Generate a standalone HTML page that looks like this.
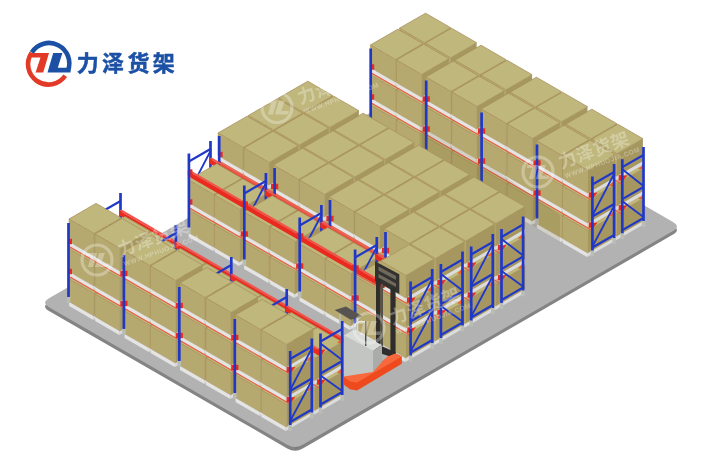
<!DOCTYPE html>
<html><head><meta charset="utf-8"><title>力泽货架</title>
<style>
html,body{margin:0;padding:0;background:#fff;}
body{width:710px;height:464px;overflow:hidden;position:relative;font-family:"Liberation Sans","Noto Sans CJK SC",sans-serif;}
svg{display:block;filter:blur(.4px)}
</style></head><body>
<svg width="710" height="464" viewBox="0 0 710 464" style="position:absolute;left:0;top:0">
<style>.t{fill:#bfb77c;stroke:#aa925c;stroke-width:.8}.f{fill:#b6a96f;stroke:#aa925c;stroke-width:.5}.r{fill:#a5975f}.pt{fill:#f2f2f2}.pf{fill:#e4e4e4}.pr{fill:#dcdcdc}</style><path d="M49.0,310.9 L287.2,448.4 Q295.0,452.9 302.8,448.4 L673.0,234.6 Q680.8,230.1 673.0,225.6 L434.8,88.1 Q427.0,83.6 419.2,88.1 L49.0,301.9 Q41.2,306.4 49.0,310.9 Z" fill="#848484"/>
<polygon points="49.0,302.8 295.0,446.2 295.0,449.9 49.0,306.4" fill="#848484"/>
<polygon points="295.0,446.2 673.0,226.5 673.0,230.1 295.0,449.9" fill="#7c7c7c"/>
<path d="M49.0,307.2 L287.2,444.8 Q295.0,449.2 302.8,444.8 L673.0,231.0 Q680.8,226.5 673.0,222.0 L434.8,84.5 Q427.0,80.0 419.2,84.5 L49.0,298.2 Q41.2,302.8 49.0,307.2 Z" fill="#b2b2b2"/>
<line x1="421.8" y1="99.0" x2="421.8" y2="92.0" stroke="#b9bdb6" stroke-width="3.6"/>
<line x1="421.8" y1="93.0" x2="421.8" y2="19.0" stroke="#2038c8" stroke-width="2.7"/>
<line x1="400.6" y1="102.2" x2="421.8" y2="90.0" stroke="#2038c8" stroke-width="2.1"/>
<line x1="400.6" y1="71.2" x2="421.8" y2="59.0" stroke="#2038c8" stroke-width="2.1"/>
<line x1="400.6" y1="39.2" x2="421.8" y2="27.0" stroke="#2038c8" stroke-width="2.1"/>
<line x1="421.8" y1="89.0" x2="400.6" y2="73.2" stroke="#2038c8" stroke-width="1.8"/>
<line x1="421.8" y1="58.0" x2="400.6" y2="41.2" stroke="#2038c8" stroke-width="1.8"/>
<polygon class="pt" points="399.6,111.2 426.0,95.9 450.2,109.9 423.8,125.2"/>
<polygon class="pf" points="399.6,111.2 423.8,125.2 423.8,129.2 399.6,115.2"/>
<polygon class="pr" points="423.8,125.2 450.2,109.9 450.2,113.9 423.8,129.2"/>
<polygon class="t" points="399.4,88.2 425.6,73.2 450.7,87.7 424.5,102.8"/>
<polygon class="f" points="399.4,88.2 424.5,102.8 424.5,125.2 399.4,110.8"/>
<polygon class="r" points="424.5,102.8 450.7,87.7 450.7,110.2 424.5,125.2"/>
<polygon class="pt" points="425.6,126.2 452.0,110.9 476.2,124.9 449.8,140.2"/>
<polygon class="pf" points="425.6,126.2 449.8,140.2 449.8,144.2 425.6,130.2"/>
<polygon class="pr" points="449.8,140.2 476.2,124.9 476.2,128.9 449.8,144.2"/>
<polygon class="t" points="425.4,103.2 451.5,88.2 476.6,102.7 450.5,117.8"/>
<polygon class="f" points="425.4,103.2 450.5,117.8 450.5,140.2 425.4,125.8"/>
<polygon class="r" points="450.5,117.8 476.6,102.7 476.6,125.2 450.5,140.2"/>
<polygon class="pt" points="399.6,81.2 426.0,65.9 450.2,79.9 423.8,95.2"/>
<polygon class="pf" points="399.6,81.2 423.8,95.2 423.8,99.2 399.6,85.2"/>
<polygon class="pr" points="423.8,95.2 450.2,79.9 450.2,83.9 423.8,99.2"/>
<polygon class="t" points="399.4,58.2 425.6,43.2 450.7,57.7 424.5,72.8"/>
<polygon class="f" points="399.4,58.2 424.5,72.8 424.5,95.2 399.4,80.8"/>
<polygon class="r" points="424.5,72.8 450.7,57.7 450.7,80.2 424.5,95.2"/>
<polygon class="pt" points="425.6,96.2 452.0,80.9 476.2,94.9 449.8,110.2"/>
<polygon class="pf" points="425.6,96.2 449.8,110.2 449.8,114.2 425.6,100.2"/>
<polygon class="pr" points="449.8,110.2 476.2,94.9 476.2,98.9 449.8,114.2"/>
<polygon class="t" points="425.4,73.2 451.5,58.2 476.6,72.7 450.5,87.8"/>
<polygon class="f" points="425.4,73.2 450.5,87.8 450.5,110.2 425.4,95.8"/>
<polygon class="r" points="450.5,87.8 476.6,72.7 476.6,95.2 450.5,110.2"/>
<polygon points="400.6,85.8 456.0,117.8 456.0,119.0 400.6,87.0" fill="#ee5a48"/>
<polygon class="pt" points="399.6,51.2 426.0,35.9 450.2,49.9 423.8,65.2"/>
<polygon class="pf" points="399.6,51.2 423.8,65.2 423.8,69.2 399.6,55.2"/>
<polygon class="pr" points="423.8,65.2 450.2,49.9 450.2,53.9 423.8,69.2"/>
<polygon class="t" points="399.4,28.2 425.6,13.2 450.7,27.7 424.5,42.8"/>
<polygon class="f" points="399.4,28.2 424.5,42.8 424.5,65.2 399.4,50.8"/>
<polygon class="r" points="424.5,42.8 450.7,27.7 450.7,50.2 424.5,65.2"/>
<polygon class="pt" points="425.6,66.2 452.0,50.9 476.2,64.9 449.8,80.2"/>
<polygon class="pf" points="425.6,66.2 449.8,80.2 449.8,84.2 425.6,70.2"/>
<polygon class="pr" points="449.8,80.2 476.2,64.9 476.2,68.9 449.8,84.2"/>
<polygon class="t" points="425.4,43.2 451.5,28.2 476.6,42.7 450.5,57.8"/>
<polygon class="f" points="425.4,43.2 450.5,57.8 450.5,80.2 425.4,65.8"/>
<polygon class="r" points="450.5,57.8 476.6,42.7 476.6,65.2 450.5,80.2"/>
<polygon points="400.6,55.8 456.0,87.8 456.0,89.0 400.6,57.0" fill="#ee5a48"/>
<rect x="400.1" y="77.0" width="4.0" height="5.4" fill="#ea2a1f"/>
<rect x="400.1" y="47.0" width="4.0" height="5.4" fill="#ea2a1f"/>
<line x1="400.6" y1="111.2" x2="400.6" y2="104.2" stroke="#b9bdb6" stroke-width="3.6"/>
<line x1="400.6" y1="105.2" x2="400.6" y2="31.2" stroke="#2038c8" stroke-width="2.7"/>
<polygon class="pt" points="455.0,143.2 481.4,127.9 505.7,141.9 479.2,157.2"/>
<polygon class="pf" points="455.0,143.2 479.2,157.2 479.2,161.2 455.0,147.2"/>
<polygon class="pr" points="479.2,157.2 505.7,141.9 505.7,145.9 479.2,161.2"/>
<polygon class="t" points="454.8,120.2 481.0,105.2 506.1,119.7 479.9,134.8"/>
<polygon class="f" points="454.8,120.2 479.9,134.8 479.9,157.2 454.8,142.8"/>
<polygon class="r" points="479.9,134.8 506.1,119.7 506.1,142.2 479.9,157.2"/>
<polygon class="pt" points="481.0,158.2 507.4,142.9 531.6,156.9 505.2,172.2"/>
<polygon class="pf" points="481.0,158.2 505.2,172.2 505.2,176.2 481.0,162.2"/>
<polygon class="pr" points="505.2,172.2 531.6,156.9 531.6,160.9 505.2,176.2"/>
<polygon class="t" points="480.8,135.2 507.0,120.2 532.1,134.7 505.9,149.8"/>
<polygon class="f" points="480.8,135.2 505.9,149.8 505.9,172.2 480.8,157.8"/>
<polygon class="r" points="505.9,149.8 532.1,134.7 532.1,157.2 505.9,172.2"/>
<polygon class="pt" points="455.0,113.2 481.4,97.9 505.7,111.9 479.2,127.2"/>
<polygon class="pf" points="455.0,113.2 479.2,127.2 479.2,131.2 455.0,117.2"/>
<polygon class="pr" points="479.2,127.2 505.7,111.9 505.7,115.9 479.2,131.2"/>
<polygon class="t" points="454.8,90.2 481.0,75.2 506.1,89.7 479.9,104.8"/>
<polygon class="f" points="454.8,90.2 479.9,104.8 479.9,127.2 454.8,112.8"/>
<polygon class="r" points="479.9,104.8 506.1,89.7 506.1,112.2 479.9,127.2"/>
<polygon class="pt" points="481.0,128.2 507.4,112.9 531.6,126.9 505.2,142.2"/>
<polygon class="pf" points="481.0,128.2 505.2,142.2 505.2,146.2 481.0,132.2"/>
<polygon class="pr" points="505.2,142.2 531.6,126.9 531.6,130.9 505.2,146.2"/>
<polygon class="t" points="480.8,105.2 507.0,90.2 532.1,104.7 505.9,119.8"/>
<polygon class="f" points="480.8,105.2 505.9,119.8 505.9,142.2 480.8,127.8"/>
<polygon class="r" points="505.9,119.8 532.1,104.7 532.1,127.2 505.9,142.2"/>
<polygon points="456.0,117.8 511.5,149.8 511.5,150.9 456.0,119.0" fill="#ee5a48"/>
<polygon class="pt" points="455.0,83.2 481.4,67.9 505.7,81.9 479.2,97.2"/>
<polygon class="pf" points="455.0,83.2 479.2,97.2 479.2,101.2 455.0,87.2"/>
<polygon class="pr" points="479.2,97.2 505.7,81.9 505.7,85.9 479.2,101.2"/>
<polygon class="t" points="454.8,60.2 481.0,45.2 506.1,59.7 479.9,74.8"/>
<polygon class="f" points="454.8,60.2 479.9,74.8 479.9,97.2 454.8,82.8"/>
<polygon class="r" points="479.9,74.8 506.1,59.7 506.1,82.2 479.9,97.2"/>
<polygon class="pt" points="481.0,98.2 507.4,82.9 531.6,96.9 505.2,112.2"/>
<polygon class="pf" points="481.0,98.2 505.2,112.2 505.2,116.2 481.0,102.2"/>
<polygon class="pr" points="505.2,112.2 531.6,96.9 531.6,100.9 505.2,116.2"/>
<polygon class="t" points="480.8,75.2 507.0,60.2 532.1,74.7 505.9,89.8"/>
<polygon class="f" points="480.8,75.2 505.9,89.8 505.9,112.2 480.8,97.8"/>
<polygon class="r" points="505.9,89.8 532.1,74.7 532.1,97.2 505.9,112.2"/>
<polygon points="456.0,87.8 511.5,119.8 511.5,121.0 456.0,89.0" fill="#ee5a48"/>
<rect x="452.4" y="109.0" width="7.2" height="5.4" fill="#ea2a1f"/>
<rect x="452.4" y="79.0" width="7.2" height="5.4" fill="#ea2a1f"/>
<line x1="456.0" y1="143.2" x2="456.0" y2="136.2" stroke="#b9bdb6" stroke-width="3.6"/>
<line x1="456.0" y1="137.2" x2="456.0" y2="63.2" stroke="#2038c8" stroke-width="2.7"/>
<polygon class="pt" points="510.4,175.2 536.8,159.9 561.1,173.9 534.7,189.2"/>
<polygon class="pf" points="510.4,175.2 534.7,189.2 534.7,193.2 510.4,179.2"/>
<polygon class="pr" points="534.7,189.2 561.1,173.9 561.1,177.9 534.7,193.2"/>
<polygon class="t" points="510.2,152.2 536.4,137.2 561.5,151.7 535.4,166.8"/>
<polygon class="f" points="510.2,152.2 535.4,166.8 535.4,189.2 510.2,174.8"/>
<polygon class="r" points="535.4,166.8 561.5,151.7 561.5,174.2 535.4,189.2"/>
<polygon class="pt" points="536.4,190.2 562.8,174.9 587.1,188.9 560.6,204.2"/>
<polygon class="pf" points="536.4,190.2 560.6,204.2 560.6,208.2 536.4,194.2"/>
<polygon class="pr" points="560.6,204.2 587.1,188.9 587.1,192.9 560.6,208.2"/>
<polygon class="t" points="536.2,167.2 562.4,152.2 587.5,166.7 561.3,181.8"/>
<polygon class="f" points="536.2,167.2 561.3,181.8 561.3,204.2 536.2,189.8"/>
<polygon class="r" points="561.3,181.8 587.5,166.7 587.5,189.2 561.3,204.2"/>
<polygon class="pt" points="510.4,145.2 536.8,129.9 561.1,143.9 534.7,159.2"/>
<polygon class="pf" points="510.4,145.2 534.7,159.2 534.7,163.2 510.4,149.2"/>
<polygon class="pr" points="534.7,159.2 561.1,143.9 561.1,147.9 534.7,163.2"/>
<polygon class="t" points="510.2,122.2 536.4,107.2 561.5,121.7 535.4,136.8"/>
<polygon class="f" points="510.2,122.2 535.4,136.8 535.4,159.2 510.2,144.8"/>
<polygon class="r" points="535.4,136.8 561.5,121.7 561.5,144.2 535.4,159.2"/>
<polygon class="pt" points="536.4,160.2 562.8,144.9 587.1,158.9 560.6,174.2"/>
<polygon class="pf" points="536.4,160.2 560.6,174.2 560.6,178.2 536.4,164.2"/>
<polygon class="pr" points="560.6,174.2 587.1,158.9 587.1,162.9 560.6,178.2"/>
<polygon class="t" points="536.2,137.2 562.4,122.2 587.5,136.7 561.3,151.8"/>
<polygon class="f" points="536.2,137.2 561.3,151.8 561.3,174.2 536.2,159.8"/>
<polygon class="r" points="561.3,151.8 587.5,136.7 587.5,159.2 561.3,174.2"/>
<polygon points="511.5,149.8 566.9,181.8 566.9,182.9 511.5,150.9" fill="#ee5a48"/>
<polygon class="pt" points="510.4,115.2 536.8,99.9 561.1,113.9 534.7,129.2"/>
<polygon class="pf" points="510.4,115.2 534.7,129.2 534.7,133.2 510.4,119.2"/>
<polygon class="pr" points="534.7,129.2 561.1,113.9 561.1,117.9 534.7,133.2"/>
<polygon class="t" points="510.2,92.2 536.4,77.2 561.5,91.7 535.4,106.8"/>
<polygon class="f" points="510.2,92.2 535.4,106.8 535.4,129.2 510.2,114.8"/>
<polygon class="r" points="535.4,106.8 561.5,91.7 561.5,114.2 535.4,129.2"/>
<polygon class="pt" points="536.4,130.2 562.8,114.9 587.1,128.9 560.6,144.2"/>
<polygon class="pf" points="536.4,130.2 560.6,144.2 560.6,148.2 536.4,134.2"/>
<polygon class="pr" points="560.6,144.2 587.1,128.9 587.1,132.9 560.6,148.2"/>
<polygon class="t" points="536.2,107.2 562.4,92.2 587.5,106.7 561.3,121.8"/>
<polygon class="f" points="536.2,107.2 561.3,121.8 561.3,144.2 536.2,129.8"/>
<polygon class="r" points="561.3,121.8 587.5,106.7 587.5,129.2 561.3,144.2"/>
<polygon points="511.5,119.8 566.9,151.8 566.9,152.9 511.5,121.0" fill="#ee5a48"/>
<rect x="507.9" y="141.1" width="7.2" height="5.4" fill="#ea2a1f"/>
<rect x="507.9" y="111.0" width="7.2" height="5.4" fill="#ea2a1f"/>
<line x1="511.5" y1="175.2" x2="511.5" y2="168.2" stroke="#b9bdb6" stroke-width="3.6"/>
<line x1="511.5" y1="169.2" x2="511.5" y2="95.2" stroke="#2038c8" stroke-width="2.7"/>
<polygon class="pt" points="565.8,207.2 592.3,191.9 616.5,205.9 590.1,221.2"/>
<polygon class="pf" points="565.8,207.2 590.1,221.2 590.1,225.2 565.8,211.2"/>
<polygon class="pr" points="590.1,221.2 616.5,205.9 616.5,209.9 590.1,225.2"/>
<polygon class="t" points="565.7,184.2 591.8,169.2 616.9,183.7 590.8,198.8"/>
<polygon class="f" points="565.7,184.2 590.8,198.8 590.8,221.2 565.7,206.8"/>
<polygon class="r" points="590.8,198.8 616.9,183.7 616.9,206.2 590.8,221.2"/>
<polygon class="pt" points="591.8,222.2 618.2,206.9 642.5,220.9 616.1,236.2"/>
<polygon class="pf" points="591.8,222.2 616.1,236.2 616.1,240.2 591.8,226.2"/>
<polygon class="pr" points="616.1,236.2 642.5,220.9 642.5,224.9 616.1,240.2"/>
<polygon class="t" points="591.7,199.2 617.8,184.2 642.9,198.7 616.8,213.8"/>
<polygon class="f" points="591.7,199.2 616.8,213.8 616.8,236.2 591.7,221.8"/>
<polygon class="r" points="616.8,213.8 642.9,198.7 642.9,221.2 616.8,236.2"/>
<polygon class="pt" points="565.8,177.2 592.3,161.9 616.5,175.9 590.1,191.2"/>
<polygon class="pf" points="565.8,177.2 590.1,191.2 590.1,195.2 565.8,181.2"/>
<polygon class="pr" points="590.1,191.2 616.5,175.9 616.5,179.9 590.1,195.2"/>
<polygon class="t" points="565.7,154.2 591.8,139.2 616.9,153.7 590.8,168.8"/>
<polygon class="f" points="565.7,154.2 590.8,168.8 590.8,191.2 565.7,176.8"/>
<polygon class="r" points="590.8,168.8 616.9,153.7 616.9,176.2 590.8,191.2"/>
<polygon class="pt" points="591.8,192.2 618.2,176.9 642.5,190.9 616.1,206.2"/>
<polygon class="pf" points="591.8,192.2 616.1,206.2 616.1,210.2 591.8,196.2"/>
<polygon class="pr" points="616.1,206.2 642.5,190.9 642.5,194.9 616.1,210.2"/>
<polygon class="t" points="591.7,169.2 617.8,154.2 642.9,168.7 616.8,183.8"/>
<polygon class="f" points="591.7,169.2 616.8,183.8 616.8,206.2 591.7,191.8"/>
<polygon class="r" points="616.8,183.8 642.9,168.7 642.9,191.2 616.8,206.2"/>
<polygon points="566.9,181.8 622.3,213.8 622.3,214.9 566.9,182.9" fill="#ee5a48"/>
<polygon class="pt" points="565.8,147.2 592.3,131.9 616.5,145.9 590.1,161.2"/>
<polygon class="pf" points="565.8,147.2 590.1,161.2 590.1,165.2 565.8,151.2"/>
<polygon class="pr" points="590.1,161.2 616.5,145.9 616.5,149.9 590.1,165.2"/>
<polygon class="t" points="565.7,124.2 591.8,109.2 616.9,123.7 590.8,138.8"/>
<polygon class="f" points="565.7,124.2 590.8,138.8 590.8,161.2 565.7,146.8"/>
<polygon class="r" points="590.8,138.8 616.9,123.7 616.9,146.2 590.8,161.2"/>
<polygon class="pt" points="591.8,162.2 618.2,146.9 642.5,160.9 616.1,176.2"/>
<polygon class="pf" points="591.8,162.2 616.1,176.2 616.1,180.2 591.8,166.2"/>
<polygon class="pr" points="616.1,176.2 642.5,160.9 642.5,164.9 616.1,180.2"/>
<polygon class="t" points="591.7,139.2 617.8,124.2 642.9,138.7 616.8,153.8"/>
<polygon class="f" points="591.7,139.2 616.8,153.8 616.8,176.2 591.7,161.8"/>
<polygon class="r" points="616.8,153.8 642.9,138.7 642.9,161.2 616.8,176.2"/>
<polygon points="566.9,151.8 622.3,183.8 622.3,184.9 566.9,152.9" fill="#ee5a48"/>
<rect x="563.3" y="173.1" width="7.2" height="5.4" fill="#ea2a1f"/>
<rect x="563.3" y="143.1" width="7.2" height="5.4" fill="#ea2a1f"/>
<line x1="566.9" y1="207.2" x2="566.9" y2="200.2" stroke="#b9bdb6" stroke-width="3.6"/>
<line x1="566.9" y1="201.2" x2="566.9" y2="127.2" stroke="#2038c8" stroke-width="2.7"/>
<rect x="618.7" y="205.1" width="4.0" height="5.4" fill="#ea2a1f"/>
<polygon points="622.3,205.8 627.5,205.2 622.3,211.8" fill="#ea2a1f"/>
<polygon points="643.5,193.5 638.3,199.0 643.5,199.5" fill="#f0602a"/>
<rect x="618.7" y="175.1" width="4.0" height="5.4" fill="#ea2a1f"/>
<polygon points="622.3,175.8 627.5,175.2 622.3,181.8" fill="#ea2a1f"/>
<polygon points="643.5,163.5 638.3,169.0 643.5,169.5" fill="#f0602a"/>
<line x1="643.5" y1="227.0" x2="643.5" y2="220.0" stroke="#b9bdb6" stroke-width="3.6"/>
<line x1="643.5" y1="221.0" x2="643.5" y2="147.0" stroke="#2038c8" stroke-width="2.7"/>
<line x1="622.3" y1="230.2" x2="643.5" y2="218.0" stroke="#2038c8" stroke-width="2.1"/>
<line x1="622.3" y1="199.2" x2="643.5" y2="187.0" stroke="#2038c8" stroke-width="2.1"/>
<line x1="622.3" y1="167.2" x2="643.5" y2="155.0" stroke="#2038c8" stroke-width="2.1"/>
<line x1="643.5" y1="217.0" x2="622.3" y2="201.2" stroke="#2038c8" stroke-width="1.8"/>
<line x1="643.5" y1="186.0" x2="622.3" y2="169.2" stroke="#2038c8" stroke-width="1.8"/>
<line x1="622.3" y1="239.2" x2="622.3" y2="232.2" stroke="#b9bdb6" stroke-width="3.6"/>
<line x1="622.3" y1="233.2" x2="622.3" y2="159.2" stroke="#2038c8" stroke-width="2.7"/>
<line x1="392.4" y1="116.0" x2="392.4" y2="109.0" stroke="#b9bdb6" stroke-width="3.6"/>
<line x1="392.4" y1="110.0" x2="392.4" y2="36.0" stroke="#2038c8" stroke-width="2.7"/>
<line x1="370.7" y1="119.5" x2="392.4" y2="107.0" stroke="#2038c8" stroke-width="2.1"/>
<line x1="370.7" y1="88.5" x2="392.4" y2="76.0" stroke="#2038c8" stroke-width="2.1"/>
<line x1="370.7" y1="56.5" x2="392.4" y2="44.0" stroke="#2038c8" stroke-width="2.1"/>
<line x1="370.7" y1="118.5" x2="392.4" y2="78.0" stroke="#2038c8" stroke-width="1.8"/>
<line x1="370.7" y1="87.5" x2="392.4" y2="46.0" stroke="#2038c8" stroke-width="1.8"/>
<polygon class="pt" points="370.6,127.9 398.3,111.9 422.5,125.9 394.8,141.9"/>
<polygon class="pf" points="370.6,127.9 394.8,141.9 394.8,145.9 370.6,131.9"/>
<polygon class="pr" points="394.8,141.9 422.5,125.9 422.5,129.9 394.8,145.9"/>
<polygon class="t" points="370.4,105.0 397.8,89.2 423.0,103.7 395.5,119.5"/>
<polygon class="f" points="370.4,105.0 395.5,119.5 395.5,142.0 370.4,127.5"/>
<polygon class="r" points="395.5,119.5 423.0,103.7 423.0,126.2 395.5,142.0"/>
<polygon class="pt" points="396.5,142.9 424.3,126.9 448.5,140.9 420.8,156.9"/>
<polygon class="pf" points="396.5,142.9 420.8,156.9 420.8,160.9 396.5,146.9"/>
<polygon class="pr" points="420.8,156.9 448.5,140.9 448.5,144.9 420.8,160.9"/>
<polygon class="t" points="396.4,120.0 423.8,104.2 448.9,118.7 421.5,134.5"/>
<polygon class="f" points="396.4,120.0 421.5,134.5 421.5,157.0 396.4,142.5"/>
<polygon class="r" points="421.5,134.5 448.9,118.7 448.9,141.2 421.5,157.0"/>
<polygon class="pt" points="370.6,97.9 398.3,81.9 422.5,95.9 394.8,111.9"/>
<polygon class="pf" points="370.6,97.9 394.8,111.9 394.8,115.9 370.6,101.9"/>
<polygon class="pr" points="394.8,111.9 422.5,95.9 422.5,99.9 394.8,115.9"/>
<polygon class="t" points="370.4,75.0 397.8,59.2 423.0,73.7 395.5,89.5"/>
<polygon class="f" points="370.4,75.0 395.5,89.5 395.5,112.0 370.4,97.5"/>
<polygon class="r" points="395.5,89.5 423.0,73.7 423.0,96.2 395.5,112.0"/>
<polygon class="pt" points="396.5,112.9 424.3,96.9 448.5,110.9 420.8,126.9"/>
<polygon class="pf" points="396.5,112.9 420.8,126.9 420.8,130.9 396.5,116.9"/>
<polygon class="pr" points="420.8,126.9 448.5,110.9 448.5,114.9 420.8,130.9"/>
<polygon class="t" points="396.4,90.0 423.8,74.2 448.9,88.7 421.5,104.5"/>
<polygon class="f" points="396.4,90.0 421.5,104.5 421.5,127.0 396.4,112.5"/>
<polygon class="r" points="421.5,104.5 448.9,88.7 448.9,111.2 421.5,127.0"/>
<polygon points="370.7,102.0 426.2,134.0 426.2,135.2 370.7,103.2" fill="#ee5a48"/>
<polygon class="pt" points="370.6,67.9 398.3,51.9 422.5,65.9 394.8,81.9"/>
<polygon class="pf" points="370.6,67.9 394.8,81.9 394.8,85.9 370.6,71.9"/>
<polygon class="pr" points="394.8,81.9 422.5,65.9 422.5,69.9 394.8,85.9"/>
<polygon class="t" points="370.4,45.0 397.8,29.2 423.0,43.7 395.5,59.5"/>
<polygon class="f" points="370.4,45.0 395.5,59.5 395.5,82.0 370.4,67.5"/>
<polygon class="r" points="395.5,59.5 423.0,43.7 423.0,66.2 395.5,82.0"/>
<polygon class="pt" points="396.5,82.9 424.3,66.9 448.5,80.9 420.8,96.9"/>
<polygon class="pf" points="396.5,82.9 420.8,96.9 420.8,100.9 396.5,86.9"/>
<polygon class="pr" points="420.8,96.9 448.5,80.9 448.5,84.9 420.8,100.9"/>
<polygon class="t" points="396.4,60.0 423.8,44.2 448.9,58.7 421.5,74.5"/>
<polygon class="f" points="396.4,60.0 421.5,74.5 421.5,97.0 396.4,82.5"/>
<polygon class="r" points="421.5,74.5 448.9,58.7 448.9,81.2 421.5,97.0"/>
<polygon points="370.7,72.0 426.2,104.0 426.2,105.2 370.7,73.2" fill="#ee5a48"/>
<rect x="370.2" y="94.3" width="4.0" height="5.4" fill="#ea2a1f"/>
<rect x="370.2" y="64.3" width="4.0" height="5.4" fill="#ea2a1f"/>
<line x1="370.7" y1="128.5" x2="370.7" y2="121.5" stroke="#b9bdb6" stroke-width="3.6"/>
<line x1="370.7" y1="122.5" x2="370.7" y2="48.5" stroke="#2038c8" stroke-width="2.7"/>
<polygon class="pt" points="426.0,159.9 453.7,143.9 477.9,157.9 450.2,173.9"/>
<polygon class="pf" points="426.0,159.9 450.2,173.9 450.2,177.9 426.0,163.9"/>
<polygon class="pr" points="450.2,173.9 477.9,157.9 477.9,161.9 450.2,177.9"/>
<polygon class="t" points="425.8,137.0 453.3,121.2 478.4,135.7 450.9,151.5"/>
<polygon class="f" points="425.8,137.0 450.9,151.5 450.9,174.0 425.8,159.5"/>
<polygon class="r" points="450.9,151.5 478.4,135.7 478.4,158.2 450.9,174.0"/>
<polygon class="pt" points="452.0,174.9 479.7,158.9 503.9,172.9 476.2,188.9"/>
<polygon class="pf" points="452.0,174.9 476.2,188.9 476.2,192.9 452.0,178.9"/>
<polygon class="pr" points="476.2,188.9 503.9,172.9 503.9,176.9 476.2,192.9"/>
<polygon class="t" points="451.8,152.0 479.2,136.2 504.4,150.7 476.9,166.5"/>
<polygon class="f" points="451.8,152.0 476.9,166.5 476.9,189.0 451.8,174.5"/>
<polygon class="r" points="476.9,166.5 504.4,150.7 504.4,173.2 476.9,189.0"/>
<polygon class="pt" points="426.0,129.9 453.7,113.9 477.9,127.9 450.2,143.9"/>
<polygon class="pf" points="426.0,129.9 450.2,143.9 450.2,147.9 426.0,133.9"/>
<polygon class="pr" points="450.2,143.9 477.9,127.9 477.9,131.9 450.2,147.9"/>
<polygon class="t" points="425.8,107.0 453.3,91.2 478.4,105.7 450.9,121.5"/>
<polygon class="f" points="425.8,107.0 450.9,121.5 450.9,144.0 425.8,129.5"/>
<polygon class="r" points="450.9,121.5 478.4,105.7 478.4,128.2 450.9,144.0"/>
<polygon class="pt" points="452.0,144.9 479.7,128.9 503.9,142.9 476.2,158.9"/>
<polygon class="pf" points="452.0,144.9 476.2,158.9 476.2,162.9 452.0,148.9"/>
<polygon class="pr" points="476.2,158.9 503.9,142.9 503.9,146.9 476.2,162.9"/>
<polygon class="t" points="451.8,122.0 479.2,106.2 504.4,120.7 476.9,136.5"/>
<polygon class="f" points="451.8,122.0 476.9,136.5 476.9,159.0 451.8,144.5"/>
<polygon class="r" points="476.9,136.5 504.4,120.7 504.4,143.2 476.9,159.0"/>
<polygon points="426.2,134.0 481.6,166.0 481.6,167.2 426.2,135.2" fill="#ee5a48"/>
<polygon class="pt" points="426.0,99.9 453.7,83.9 477.9,97.9 450.2,113.9"/>
<polygon class="pf" points="426.0,99.9 450.2,113.9 450.2,117.9 426.0,103.9"/>
<polygon class="pr" points="450.2,113.9 477.9,97.9 477.9,101.9 450.2,117.9"/>
<polygon class="t" points="425.8,77.0 453.3,61.2 478.4,75.7 450.9,91.5"/>
<polygon class="f" points="425.8,77.0 450.9,91.5 450.9,114.0 425.8,99.5"/>
<polygon class="r" points="450.9,91.5 478.4,75.7 478.4,98.2 450.9,114.0"/>
<polygon class="pt" points="452.0,114.9 479.7,98.9 503.9,112.9 476.2,128.9"/>
<polygon class="pf" points="452.0,114.9 476.2,128.9 476.2,132.9 452.0,118.9"/>
<polygon class="pr" points="476.2,128.9 503.9,112.9 503.9,116.9 476.2,132.9"/>
<polygon class="t" points="451.8,92.0 479.2,76.2 504.4,90.7 476.9,106.5"/>
<polygon class="f" points="451.8,92.0 476.9,106.5 476.9,129.0 451.8,114.5"/>
<polygon class="r" points="476.9,106.5 504.4,90.7 504.4,113.2 476.9,129.0"/>
<polygon points="426.2,104.0 481.6,136.0 481.6,137.2 426.2,105.2" fill="#ee5a48"/>
<rect x="422.6" y="126.3" width="7.2" height="5.4" fill="#ea2a1f"/>
<rect x="422.6" y="96.3" width="7.2" height="5.4" fill="#ea2a1f"/>
<line x1="426.2" y1="160.5" x2="426.2" y2="153.5" stroke="#b9bdb6" stroke-width="3.6"/>
<line x1="426.2" y1="154.5" x2="426.2" y2="80.5" stroke="#2038c8" stroke-width="2.7"/>
<polygon class="pt" points="481.4,191.9 509.1,175.9 533.4,189.9 505.7,205.9"/>
<polygon class="pf" points="481.4,191.9 505.7,205.9 505.7,209.9 481.4,195.9"/>
<polygon class="pr" points="505.7,205.9 533.4,189.9 533.4,193.9 505.7,209.9"/>
<polygon class="t" points="481.2,169.0 508.7,153.2 533.8,167.7 506.3,183.5"/>
<polygon class="f" points="481.2,169.0 506.3,183.5 506.3,206.0 481.2,191.5"/>
<polygon class="r" points="506.3,183.5 533.8,167.7 533.8,190.2 506.3,206.0"/>
<polygon class="pt" points="507.4,206.9 535.1,190.9 559.3,204.9 531.6,220.9"/>
<polygon class="pf" points="507.4,206.9 531.6,220.9 531.6,224.9 507.4,210.9"/>
<polygon class="pr" points="531.6,220.9 559.3,204.9 559.3,208.9 531.6,224.9"/>
<polygon class="t" points="507.2,184.0 534.7,168.2 559.8,182.7 532.3,198.5"/>
<polygon class="f" points="507.2,184.0 532.3,198.5 532.3,221.0 507.2,206.5"/>
<polygon class="r" points="532.3,198.5 559.8,182.7 559.8,205.2 532.3,221.0"/>
<polygon class="pt" points="481.4,161.9 509.1,145.9 533.4,159.9 505.7,175.9"/>
<polygon class="pf" points="481.4,161.9 505.7,175.9 505.7,179.9 481.4,165.9"/>
<polygon class="pr" points="505.7,175.9 533.4,159.9 533.4,163.9 505.7,179.9"/>
<polygon class="t" points="481.2,139.0 508.7,123.2 533.8,137.7 506.3,153.5"/>
<polygon class="f" points="481.2,139.0 506.3,153.5 506.3,176.0 481.2,161.5"/>
<polygon class="r" points="506.3,153.5 533.8,137.7 533.8,160.2 506.3,176.0"/>
<polygon class="pt" points="507.4,176.9 535.1,160.9 559.3,174.9 531.6,190.9"/>
<polygon class="pf" points="507.4,176.9 531.6,190.9 531.6,194.9 507.4,180.9"/>
<polygon class="pr" points="531.6,190.9 559.3,174.9 559.3,178.9 531.6,194.9"/>
<polygon class="t" points="507.2,154.0 534.7,138.2 559.8,152.7 532.3,168.5"/>
<polygon class="f" points="507.2,154.0 532.3,168.5 532.3,191.0 507.2,176.5"/>
<polygon class="r" points="532.3,168.5 559.8,152.7 559.8,175.2 532.3,191.0"/>
<polygon points="481.6,166.0 537.0,198.0 537.0,199.2 481.6,167.2" fill="#ee5a48"/>
<polygon class="pt" points="481.4,131.9 509.1,115.9 533.4,129.9 505.7,145.9"/>
<polygon class="pf" points="481.4,131.9 505.7,145.9 505.7,149.9 481.4,135.9"/>
<polygon class="pr" points="505.7,145.9 533.4,129.9 533.4,133.9 505.7,149.9"/>
<polygon class="t" points="481.2,109.0 508.7,93.2 533.8,107.7 506.3,123.5"/>
<polygon class="f" points="481.2,109.0 506.3,123.5 506.3,146.0 481.2,131.5"/>
<polygon class="r" points="506.3,123.5 533.8,107.7 533.8,130.2 506.3,146.0"/>
<polygon class="pt" points="507.4,146.9 535.1,130.9 559.3,144.9 531.6,160.9"/>
<polygon class="pf" points="507.4,146.9 531.6,160.9 531.6,164.9 507.4,150.9"/>
<polygon class="pr" points="531.6,160.9 559.3,144.9 559.3,148.9 531.6,164.9"/>
<polygon class="t" points="507.2,124.0 534.7,108.2 559.8,122.7 532.3,138.5"/>
<polygon class="f" points="507.2,124.0 532.3,138.5 532.3,161.0 507.2,146.5"/>
<polygon class="r" points="532.3,138.5 559.8,122.7 559.8,145.2 532.3,161.0"/>
<polygon points="481.6,136.0 537.0,168.0 537.0,169.2 481.6,137.2" fill="#ee5a48"/>
<rect x="478.0" y="158.3" width="7.2" height="5.4" fill="#ea2a1f"/>
<rect x="478.0" y="128.3" width="7.2" height="5.4" fill="#ea2a1f"/>
<line x1="481.6" y1="192.5" x2="481.6" y2="185.5" stroke="#b9bdb6" stroke-width="3.6"/>
<line x1="481.6" y1="186.5" x2="481.6" y2="112.5" stroke="#2038c8" stroke-width="2.7"/>
<polygon class="pt" points="536.8,223.9 564.5,207.9 588.8,221.9 561.1,237.9"/>
<polygon class="pf" points="536.8,223.9 561.1,237.9 561.1,241.9 536.8,227.9"/>
<polygon class="pr" points="561.1,237.9 588.8,221.9 588.8,225.9 561.1,241.9"/>
<polygon class="t" points="536.7,201.0 564.1,185.2 589.2,199.7 561.8,215.5"/>
<polygon class="f" points="536.7,201.0 561.8,215.5 561.8,238.0 536.7,223.5"/>
<polygon class="r" points="561.8,215.5 589.2,199.7 589.2,222.2 561.8,238.0"/>
<polygon class="pt" points="562.8,238.9 590.5,222.9 614.8,236.9 587.1,252.9"/>
<polygon class="pf" points="562.8,238.9 587.1,252.9 587.1,256.9 562.8,242.9"/>
<polygon class="pr" points="587.1,252.9 614.8,236.9 614.8,240.9 587.1,256.9"/>
<polygon class="t" points="562.6,216.0 590.1,200.2 615.2,214.7 587.8,230.5"/>
<polygon class="f" points="562.6,216.0 587.8,230.5 587.8,253.0 562.6,238.5"/>
<polygon class="r" points="587.8,230.5 615.2,214.7 615.2,237.2 587.8,253.0"/>
<polygon class="pt" points="536.8,193.9 564.5,177.9 588.8,191.9 561.1,207.9"/>
<polygon class="pf" points="536.8,193.9 561.1,207.9 561.1,211.9 536.8,197.9"/>
<polygon class="pr" points="561.1,207.9 588.8,191.9 588.8,195.9 561.1,211.9"/>
<polygon class="t" points="536.7,171.0 564.1,155.2 589.2,169.7 561.8,185.5"/>
<polygon class="f" points="536.7,171.0 561.8,185.5 561.8,208.0 536.7,193.5"/>
<polygon class="r" points="561.8,185.5 589.2,169.7 589.2,192.2 561.8,208.0"/>
<polygon class="pt" points="562.8,208.9 590.5,192.9 614.8,206.9 587.1,222.9"/>
<polygon class="pf" points="562.8,208.9 587.1,222.9 587.1,226.9 562.8,212.9"/>
<polygon class="pr" points="587.1,222.9 614.8,206.9 614.8,210.9 587.1,226.9"/>
<polygon class="t" points="562.6,186.0 590.1,170.2 615.2,184.7 587.8,200.5"/>
<polygon class="f" points="562.6,186.0 587.8,200.5 587.8,223.0 562.6,208.5"/>
<polygon class="r" points="587.8,200.5 615.2,184.7 615.2,207.2 587.8,223.0"/>
<polygon points="537.0,198.0 592.4,230.0 592.4,231.2 537.0,199.2" fill="#ee5a48"/>
<polygon class="pt" points="536.8,163.9 564.5,147.9 588.8,161.9 561.1,177.9"/>
<polygon class="pf" points="536.8,163.9 561.1,177.9 561.1,181.9 536.8,167.9"/>
<polygon class="pr" points="561.1,177.9 588.8,161.9 588.8,165.9 561.1,181.9"/>
<polygon class="t" points="536.7,141.0 564.1,125.2 589.2,139.7 561.8,155.5"/>
<polygon class="f" points="536.7,141.0 561.8,155.5 561.8,178.0 536.7,163.5"/>
<polygon class="r" points="561.8,155.5 589.2,139.7 589.2,162.2 561.8,178.0"/>
<polygon class="pt" points="562.8,178.9 590.5,162.9 614.8,176.9 587.1,192.9"/>
<polygon class="pf" points="562.8,178.9 587.1,192.9 587.1,196.9 562.8,182.9"/>
<polygon class="pr" points="587.1,192.9 614.8,176.9 614.8,180.9 587.1,196.9"/>
<polygon class="t" points="562.6,156.0 590.1,140.2 615.2,154.7 587.8,170.5"/>
<polygon class="f" points="562.6,156.0 587.8,170.5 587.8,193.0 562.6,178.5"/>
<polygon class="r" points="587.8,170.5 615.2,154.7 615.2,177.2 587.8,193.0"/>
<polygon points="537.0,168.0 592.4,200.0 592.4,201.2 537.0,169.2" fill="#ee5a48"/>
<rect x="533.4" y="190.3" width="7.2" height="5.4" fill="#ea2a1f"/>
<rect x="533.4" y="160.3" width="7.2" height="5.4" fill="#ea2a1f"/>
<line x1="537.0" y1="224.5" x2="537.0" y2="217.5" stroke="#b9bdb6" stroke-width="3.6"/>
<line x1="537.0" y1="218.5" x2="537.0" y2="144.5" stroke="#2038c8" stroke-width="2.7"/>
<rect x="588.8" y="222.3" width="4.0" height="5.4" fill="#ea2a1f"/>
<polygon points="592.4,223.0 597.6,222.5 592.4,229.0" fill="#ea2a1f"/>
<polygon points="614.1,210.5 608.9,216.0 614.1,216.5" fill="#f0602a"/>
<rect x="588.8" y="192.3" width="4.0" height="5.4" fill="#ea2a1f"/>
<polygon points="592.4,193.0 597.6,192.5 592.4,199.0" fill="#ea2a1f"/>
<polygon points="614.1,180.5 608.9,186.0 614.1,186.5" fill="#f0602a"/>
<line x1="614.1" y1="244.0" x2="614.1" y2="237.0" stroke="#b9bdb6" stroke-width="3.6"/>
<line x1="614.1" y1="238.0" x2="614.1" y2="164.0" stroke="#2038c8" stroke-width="2.7"/>
<line x1="592.4" y1="247.5" x2="614.1" y2="235.0" stroke="#2038c8" stroke-width="2.1"/>
<line x1="592.4" y1="216.5" x2="614.1" y2="204.0" stroke="#2038c8" stroke-width="2.1"/>
<line x1="592.4" y1="184.5" x2="614.1" y2="172.0" stroke="#2038c8" stroke-width="2.1"/>
<line x1="592.4" y1="246.5" x2="614.1" y2="206.0" stroke="#2038c8" stroke-width="1.8"/>
<line x1="592.4" y1="215.5" x2="614.1" y2="174.0" stroke="#2038c8" stroke-width="1.8"/>
<line x1="592.4" y1="256.5" x2="592.4" y2="249.5" stroke="#b9bdb6" stroke-width="3.6"/>
<line x1="592.4" y1="250.5" x2="592.4" y2="176.5" stroke="#2038c8" stroke-width="2.7"/>
<polygon points="419.6,160.3 419.6,126.3 497.5,171.3 559.9,215.3 559.9,241.3" fill="#5a4a10" opacity="0.13"/>
<line x1="301.5" y1="168.5" x2="301.5" y2="161.5" stroke="#b9bdb6" stroke-width="3.6"/>
<line x1="301.5" y1="162.5" x2="301.5" y2="88.5" stroke="#2038c8" stroke-width="2.7"/>
<line x1="279.8" y1="172.0" x2="301.5" y2="159.5" stroke="#2038c8" stroke-width="2.1"/>
<line x1="279.8" y1="141.0" x2="301.5" y2="128.5" stroke="#2038c8" stroke-width="2.1"/>
<line x1="279.8" y1="109.0" x2="301.5" y2="96.5" stroke="#2038c8" stroke-width="2.1"/>
<line x1="301.5" y1="158.5" x2="279.8" y2="143.0" stroke="#2038c8" stroke-width="1.8"/>
<line x1="301.5" y1="127.5" x2="279.8" y2="111.0" stroke="#2038c8" stroke-width="1.8"/>
<polygon class="pt" points="278.8,180.9 308.2,163.9 332.5,177.9 303.0,194.9"/>
<polygon class="pf" points="278.8,180.9 303.0,194.9 303.0,198.9 278.8,184.9"/>
<polygon class="pr" points="303.0,194.9 332.5,177.9 332.5,181.9 303.0,198.9"/>
<polygon class="t" points="278.6,158.0 307.8,141.2 332.9,155.7 303.7,172.5"/>
<polygon class="f" points="278.6,158.0 303.7,172.5 303.7,195.0 278.6,180.5"/>
<polygon class="r" points="303.7,172.5 332.9,155.7 332.9,178.2 303.7,195.0"/>
<polygon class="pt" points="304.7,195.9 334.2,178.9 358.4,192.9 329.0,209.9"/>
<polygon class="pf" points="304.7,195.9 329.0,209.9 329.0,213.9 304.7,199.9"/>
<polygon class="pr" points="329.0,209.9 358.4,192.9 358.4,196.9 329.0,213.9"/>
<polygon class="t" points="304.6,173.0 333.8,156.2 358.9,170.7 329.7,187.5"/>
<polygon class="f" points="304.6,173.0 329.7,187.5 329.7,210.0 304.6,195.5"/>
<polygon class="r" points="329.7,187.5 358.9,170.7 358.9,193.2 329.7,210.0"/>
<polygon class="pt" points="278.8,150.9 308.2,133.9 332.5,147.9 303.0,164.9"/>
<polygon class="pf" points="278.8,150.9 303.0,164.9 303.0,168.9 278.8,154.9"/>
<polygon class="pr" points="303.0,164.9 332.5,147.9 332.5,151.9 303.0,168.9"/>
<polygon class="t" points="278.6,128.0 307.8,111.2 332.9,125.7 303.7,142.5"/>
<polygon class="f" points="278.6,128.0 303.7,142.5 303.7,165.0 278.6,150.5"/>
<polygon class="r" points="303.7,142.5 332.9,125.7 332.9,148.2 303.7,165.0"/>
<polygon class="pt" points="304.7,165.9 334.2,148.9 358.4,162.9 329.0,179.9"/>
<polygon class="pf" points="304.7,165.9 329.0,179.9 329.0,183.9 304.7,169.9"/>
<polygon class="pr" points="329.0,179.9 358.4,162.9 358.4,166.9 329.0,183.9"/>
<polygon class="t" points="304.6,143.0 333.8,126.2 358.9,140.7 329.7,157.5"/>
<polygon class="f" points="304.6,143.0 329.7,157.5 329.7,180.0 304.6,165.5"/>
<polygon class="r" points="329.7,157.5 358.9,140.7 358.9,163.2 329.7,180.0"/>
<polygon points="279.8,155.5 335.2,187.5 335.2,188.7 279.8,156.7" fill="#ee5a48"/>
<polygon class="pt" points="278.8,120.9 308.2,103.9 332.5,117.9 303.0,134.9"/>
<polygon class="pf" points="278.8,120.9 303.0,134.9 303.0,138.9 278.8,124.9"/>
<polygon class="pr" points="303.0,134.9 332.5,117.9 332.5,121.9 303.0,138.9"/>
<polygon class="t" points="278.6,98.0 307.8,81.2 332.9,95.7 303.7,112.5"/>
<polygon class="f" points="278.6,98.0 303.7,112.5 303.7,135.0 278.6,120.5"/>
<polygon class="r" points="303.7,112.5 332.9,95.7 332.9,118.2 303.7,135.0"/>
<polygon class="pt" points="304.7,135.9 334.2,118.9 358.4,132.9 329.0,149.9"/>
<polygon class="pf" points="304.7,135.9 329.0,149.9 329.0,153.9 304.7,139.9"/>
<polygon class="pr" points="329.0,149.9 358.4,132.9 358.4,136.9 329.0,153.9"/>
<polygon class="t" points="304.6,113.0 333.8,96.2 358.9,110.7 329.7,127.5"/>
<polygon class="f" points="304.6,113.0 329.7,127.5 329.7,150.0 304.6,135.5"/>
<polygon class="r" points="329.7,127.5 358.9,110.7 358.9,133.2 329.7,150.0"/>
<polygon points="279.8,125.5 335.2,157.5 335.2,158.7 279.8,126.7" fill="#ee5a48"/>
<rect x="279.3" y="146.8" width="4.0" height="5.4" fill="#ea2a1f"/>
<rect x="279.3" y="116.8" width="4.0" height="5.4" fill="#ea2a1f"/>
<line x1="279.8" y1="181.0" x2="279.8" y2="174.0" stroke="#b9bdb6" stroke-width="3.6"/>
<line x1="279.8" y1="175.0" x2="279.8" y2="101.0" stroke="#2038c8" stroke-width="2.7"/>
<polygon class="pt" points="334.2,212.9 363.6,195.9 387.9,209.9 358.4,226.9"/>
<polygon class="pf" points="334.2,212.9 358.4,226.9 358.4,230.9 334.2,216.9"/>
<polygon class="pr" points="358.4,226.9 387.9,209.9 387.9,213.9 358.4,230.9"/>
<polygon class="t" points="334.0,190.0 363.2,173.2 388.3,187.7 359.1,204.5"/>
<polygon class="f" points="334.0,190.0 359.1,204.5 359.1,227.0 334.0,212.5"/>
<polygon class="r" points="359.1,204.5 388.3,187.7 388.3,210.2 359.1,227.0"/>
<polygon class="pt" points="360.2,227.9 389.6,210.9 413.9,224.9 384.4,241.9"/>
<polygon class="pf" points="360.2,227.9 384.4,241.9 384.4,245.9 360.2,231.9"/>
<polygon class="pr" points="384.4,241.9 413.9,224.9 413.9,228.9 384.4,245.9"/>
<polygon class="t" points="360.0,205.0 389.2,188.2 414.3,202.7 385.1,219.5"/>
<polygon class="f" points="360.0,205.0 385.1,219.5 385.1,242.0 360.0,227.5"/>
<polygon class="r" points="385.1,219.5 414.3,202.7 414.3,225.2 385.1,242.0"/>
<polygon class="pt" points="334.2,182.9 363.6,165.9 387.9,179.9 358.4,196.9"/>
<polygon class="pf" points="334.2,182.9 358.4,196.9 358.4,200.9 334.2,186.9"/>
<polygon class="pr" points="358.4,196.9 387.9,179.9 387.9,183.9 358.4,200.9"/>
<polygon class="t" points="334.0,160.0 363.2,143.2 388.3,157.7 359.1,174.5"/>
<polygon class="f" points="334.0,160.0 359.1,174.5 359.1,197.0 334.0,182.5"/>
<polygon class="r" points="359.1,174.5 388.3,157.7 388.3,180.2 359.1,197.0"/>
<polygon class="pt" points="360.2,197.9 389.6,180.9 413.9,194.9 384.4,211.9"/>
<polygon class="pf" points="360.2,197.9 384.4,211.9 384.4,215.9 360.2,201.9"/>
<polygon class="pr" points="384.4,211.9 413.9,194.9 413.9,198.9 384.4,215.9"/>
<polygon class="t" points="360.0,175.0 389.2,158.2 414.3,172.7 385.1,189.5"/>
<polygon class="f" points="360.0,175.0 385.1,189.5 385.1,212.0 360.0,197.5"/>
<polygon class="r" points="385.1,189.5 414.3,172.7 414.3,195.2 385.1,212.0"/>
<polygon points="335.2,187.5 390.7,219.5 390.7,220.7 335.2,188.7" fill="#ee5a48"/>
<polygon class="pt" points="334.2,152.9 363.6,135.9 387.9,149.9 358.4,166.9"/>
<polygon class="pf" points="334.2,152.9 358.4,166.9 358.4,170.9 334.2,156.9"/>
<polygon class="pr" points="358.4,166.9 387.9,149.9 387.9,153.9 358.4,170.9"/>
<polygon class="t" points="334.0,130.0 363.2,113.2 388.3,127.7 359.1,144.5"/>
<polygon class="f" points="334.0,130.0 359.1,144.5 359.1,167.0 334.0,152.5"/>
<polygon class="r" points="359.1,144.5 388.3,127.7 388.3,150.2 359.1,167.0"/>
<polygon class="pt" points="360.2,167.9 389.6,150.9 413.9,164.9 384.4,181.9"/>
<polygon class="pf" points="360.2,167.9 384.4,181.9 384.4,185.9 360.2,171.9"/>
<polygon class="pr" points="384.4,181.9 413.9,164.9 413.9,168.9 384.4,185.9"/>
<polygon class="t" points="360.0,145.0 389.2,128.2 414.3,142.7 385.1,159.5"/>
<polygon class="f" points="360.0,145.0 385.1,159.5 385.1,182.0 360.0,167.5"/>
<polygon class="r" points="385.1,159.5 414.3,142.7 414.3,165.2 385.1,182.0"/>
<polygon points="335.2,157.5 390.7,189.5 390.7,190.7 335.2,158.7" fill="#ee5a48"/>
<rect x="331.6" y="178.8" width="7.2" height="5.4" fill="#ea2a1f"/>
<rect x="331.6" y="148.8" width="7.2" height="5.4" fill="#ea2a1f"/>
<line x1="335.2" y1="213.0" x2="335.2" y2="206.0" stroke="#b9bdb6" stroke-width="3.6"/>
<line x1="335.2" y1="207.0" x2="335.2" y2="133.0" stroke="#2038c8" stroke-width="2.7"/>
<polygon class="pt" points="389.6,244.9 419.1,227.9 443.3,241.9 413.9,258.9"/>
<polygon class="pf" points="389.6,244.9 413.9,258.9 413.9,262.9 389.6,248.9"/>
<polygon class="pr" points="413.9,258.9 443.3,241.9 443.3,245.9 413.9,262.9"/>
<polygon class="t" points="389.4,222.0 418.6,205.2 443.7,219.7 414.6,236.5"/>
<polygon class="f" points="389.4,222.0 414.6,236.5 414.6,259.0 389.4,244.5"/>
<polygon class="r" points="414.6,236.5 443.7,219.7 443.7,242.2 414.6,259.0"/>
<polygon class="pt" points="415.6,259.9 445.0,242.9 469.3,256.9 439.8,273.9"/>
<polygon class="pf" points="415.6,259.9 439.8,273.9 439.8,277.9 415.6,263.9"/>
<polygon class="pr" points="439.8,273.9 469.3,256.9 469.3,260.9 439.8,277.9"/>
<polygon class="t" points="415.4,237.0 444.6,220.2 469.7,234.6 440.5,251.5"/>
<polygon class="f" points="415.4,237.0 440.5,251.5 440.5,274.0 415.4,259.5"/>
<polygon class="r" points="440.5,251.5 469.7,234.6 469.7,257.1 440.5,274.0"/>
<polygon class="pt" points="389.6,214.9 419.1,197.9 443.3,211.9 413.9,228.9"/>
<polygon class="pf" points="389.6,214.9 413.9,228.9 413.9,232.9 389.6,218.9"/>
<polygon class="pr" points="413.9,228.9 443.3,211.9 443.3,215.9 413.9,232.9"/>
<polygon class="t" points="389.4,192.0 418.6,175.2 443.7,189.7 414.6,206.5"/>
<polygon class="f" points="389.4,192.0 414.6,206.5 414.6,229.0 389.4,214.5"/>
<polygon class="r" points="414.6,206.5 443.7,189.7 443.7,212.2 414.6,229.0"/>
<polygon class="pt" points="415.6,229.9 445.0,212.9 469.3,226.9 439.8,243.9"/>
<polygon class="pf" points="415.6,229.9 439.8,243.9 439.8,247.9 415.6,233.9"/>
<polygon class="pr" points="439.8,243.9 469.3,226.9 469.3,230.9 439.8,247.9"/>
<polygon class="t" points="415.4,207.0 444.6,190.2 469.7,204.6 440.5,221.5"/>
<polygon class="f" points="415.4,207.0 440.5,221.5 440.5,244.0 415.4,229.5"/>
<polygon class="r" points="440.5,221.5 469.7,204.6 469.7,227.1 440.5,244.0"/>
<polygon points="390.7,219.5 446.1,251.5 446.1,252.7 390.7,220.7" fill="#ee5a48"/>
<polygon class="pt" points="389.6,184.9 419.1,167.9 443.3,181.9 413.9,198.9"/>
<polygon class="pf" points="389.6,184.9 413.9,198.9 413.9,202.9 389.6,188.9"/>
<polygon class="pr" points="413.9,198.9 443.3,181.9 443.3,185.9 413.9,202.9"/>
<polygon class="t" points="389.4,162.0 418.6,145.2 443.7,159.7 414.6,176.5"/>
<polygon class="f" points="389.4,162.0 414.6,176.5 414.6,199.0 389.4,184.5"/>
<polygon class="r" points="414.6,176.5 443.7,159.7 443.7,182.2 414.6,199.0"/>
<polygon class="pt" points="415.6,199.9 445.0,182.9 469.3,196.9 439.8,213.9"/>
<polygon class="pf" points="415.6,199.9 439.8,213.9 439.8,217.9 415.6,203.9"/>
<polygon class="pr" points="439.8,213.9 469.3,196.9 469.3,200.9 439.8,217.9"/>
<polygon class="t" points="415.4,177.0 444.6,160.2 469.7,174.6 440.5,191.5"/>
<polygon class="f" points="415.4,177.0 440.5,191.5 440.5,214.0 415.4,199.5"/>
<polygon class="r" points="440.5,191.5 469.7,174.6 469.7,197.1 440.5,214.0"/>
<polygon points="390.7,189.5 446.1,221.5 446.1,222.7 390.7,190.7" fill="#ee5a48"/>
<rect x="387.1" y="210.8" width="7.2" height="5.4" fill="#ea2a1f"/>
<rect x="387.1" y="180.8" width="7.2" height="5.4" fill="#ea2a1f"/>
<line x1="390.7" y1="245.0" x2="390.7" y2="238.0" stroke="#b9bdb6" stroke-width="3.6"/>
<line x1="390.7" y1="239.0" x2="390.7" y2="165.0" stroke="#2038c8" stroke-width="2.7"/>
<polygon class="pt" points="445.0,276.9 474.5,259.9 498.7,273.9 469.3,290.9"/>
<polygon class="pf" points="445.0,276.9 469.3,290.9 469.3,294.9 445.0,280.9"/>
<polygon class="pr" points="469.3,290.9 498.7,273.9 498.7,277.9 469.3,294.9"/>
<polygon class="t" points="444.9,254.0 474.0,237.1 499.2,251.6 470.0,268.5"/>
<polygon class="f" points="444.9,254.0 470.0,268.5 470.0,291.0 444.9,276.5"/>
<polygon class="r" points="470.0,268.5 499.2,251.6 499.2,274.1 470.0,291.0"/>
<polygon class="pt" points="471.0,291.9 500.5,274.9 524.7,288.9 495.3,305.9"/>
<polygon class="pf" points="471.0,291.9 495.3,305.9 495.3,309.9 471.0,295.9"/>
<polygon class="pr" points="495.3,305.9 524.7,288.9 524.7,292.9 495.3,309.9"/>
<polygon class="t" points="470.8,269.0 500.0,252.1 525.1,266.6 496.0,283.5"/>
<polygon class="f" points="470.8,269.0 496.0,283.5 496.0,306.0 470.8,291.5"/>
<polygon class="r" points="496.0,283.5 525.1,266.6 525.1,289.1 496.0,306.0"/>
<polygon class="pt" points="445.0,246.9 474.5,229.9 498.7,243.9 469.3,260.9"/>
<polygon class="pf" points="445.0,246.9 469.3,260.9 469.3,264.9 445.0,250.9"/>
<polygon class="pr" points="469.3,260.9 498.7,243.9 498.7,247.9 469.3,264.9"/>
<polygon class="t" points="444.9,224.0 474.0,207.1 499.2,221.6 470.0,238.5"/>
<polygon class="f" points="444.9,224.0 470.0,238.5 470.0,261.0 444.9,246.5"/>
<polygon class="r" points="470.0,238.5 499.2,221.6 499.2,244.1 470.0,261.0"/>
<polygon class="pt" points="471.0,261.9 500.5,244.9 524.7,258.9 495.3,275.9"/>
<polygon class="pf" points="471.0,261.9 495.3,275.9 495.3,279.9 471.0,265.9"/>
<polygon class="pr" points="495.3,275.9 524.7,258.9 524.7,262.9 495.3,279.9"/>
<polygon class="t" points="470.8,239.0 500.0,222.1 525.1,236.6 496.0,253.5"/>
<polygon class="f" points="470.8,239.0 496.0,253.5 496.0,276.0 470.8,261.5"/>
<polygon class="r" points="496.0,253.5 525.1,236.6 525.1,259.1 496.0,276.0"/>
<polygon points="446.1,251.5 501.5,283.5 501.5,284.7 446.1,252.7" fill="#ee5a48"/>
<polygon class="pt" points="445.0,216.9 474.5,199.9 498.7,213.9 469.3,230.9"/>
<polygon class="pf" points="445.0,216.9 469.3,230.9 469.3,234.9 445.0,220.9"/>
<polygon class="pr" points="469.3,230.9 498.7,213.9 498.7,217.9 469.3,234.9"/>
<polygon class="t" points="444.9,194.0 474.0,177.1 499.2,191.6 470.0,208.5"/>
<polygon class="f" points="444.9,194.0 470.0,208.5 470.0,231.0 444.9,216.5"/>
<polygon class="r" points="470.0,208.5 499.2,191.6 499.2,214.1 470.0,231.0"/>
<polygon class="pt" points="471.0,231.9 500.5,214.9 524.7,228.9 495.3,245.9"/>
<polygon class="pf" points="471.0,231.9 495.3,245.9 495.3,249.9 471.0,235.9"/>
<polygon class="pr" points="495.3,245.9 524.7,228.9 524.7,232.9 495.3,249.9"/>
<polygon class="t" points="470.8,209.0 500.0,192.1 525.1,206.6 496.0,223.5"/>
<polygon class="f" points="470.8,209.0 496.0,223.5 496.0,246.0 470.8,231.5"/>
<polygon class="r" points="496.0,223.5 525.1,206.6 525.1,229.1 496.0,246.0"/>
<polygon points="446.1,221.5 501.5,253.5 501.5,254.7 446.1,222.7" fill="#ee5a48"/>
<rect x="442.5" y="242.8" width="7.2" height="5.4" fill="#ea2a1f"/>
<rect x="442.5" y="212.8" width="7.2" height="5.4" fill="#ea2a1f"/>
<line x1="446.1" y1="277.0" x2="446.1" y2="270.0" stroke="#b9bdb6" stroke-width="3.6"/>
<line x1="446.1" y1="271.0" x2="446.1" y2="197.0" stroke="#2038c8" stroke-width="2.7"/>
<rect x="497.9" y="274.8" width="4.0" height="5.4" fill="#ea2a1f"/>
<polygon points="501.5,275.5 506.7,275.0 501.5,281.5" fill="#ea2a1f"/>
<polygon points="523.1,263.0 518.0,268.5 523.1,269.0" fill="#f0602a"/>
<rect x="497.9" y="244.8" width="4.0" height="5.4" fill="#ea2a1f"/>
<polygon points="501.5,245.5 506.7,245.0 501.5,251.5" fill="#ea2a1f"/>
<polygon points="523.1,233.0 518.0,238.5 523.1,239.0" fill="#f0602a"/>
<line x1="523.1" y1="296.5" x2="523.1" y2="289.5" stroke="#b9bdb6" stroke-width="3.6"/>
<line x1="523.1" y1="290.5" x2="523.1" y2="216.5" stroke="#2038c8" stroke-width="2.7"/>
<line x1="501.5" y1="300.0" x2="523.1" y2="287.5" stroke="#2038c8" stroke-width="2.1"/>
<line x1="501.5" y1="269.0" x2="523.1" y2="256.5" stroke="#2038c8" stroke-width="2.1"/>
<line x1="501.5" y1="237.0" x2="523.1" y2="224.5" stroke="#2038c8" stroke-width="2.1"/>
<line x1="523.1" y1="286.5" x2="501.5" y2="271.0" stroke="#2038c8" stroke-width="1.8"/>
<line x1="523.1" y1="255.5" x2="501.5" y2="239.0" stroke="#2038c8" stroke-width="1.8"/>
<line x1="501.5" y1="309.0" x2="501.5" y2="302.0" stroke="#b9bdb6" stroke-width="3.6"/>
<line x1="501.5" y1="303.0" x2="501.5" y2="229.0" stroke="#2038c8" stroke-width="2.7"/>
<line x1="271.1" y1="186.0" x2="271.1" y2="179.0" stroke="#b9bdb6" stroke-width="3.6"/>
<line x1="271.1" y1="180.0" x2="271.1" y2="106.0" stroke="#2038c8" stroke-width="2.7"/>
<line x1="249.5" y1="189.5" x2="271.1" y2="177.0" stroke="#2038c8" stroke-width="2.1"/>
<line x1="249.5" y1="158.5" x2="271.1" y2="146.0" stroke="#2038c8" stroke-width="2.1"/>
<line x1="249.5" y1="126.5" x2="271.1" y2="114.0" stroke="#2038c8" stroke-width="2.1"/>
<line x1="249.5" y1="188.5" x2="271.1" y2="148.0" stroke="#2038c8" stroke-width="1.8"/>
<line x1="249.5" y1="157.5" x2="271.1" y2="116.0" stroke="#2038c8" stroke-width="1.8"/>
<polygon class="pt" points="248.5,198.4 277.9,181.4 302.1,195.4 272.7,212.4"/>
<polygon class="pf" points="248.5,198.4 272.7,212.4 272.7,216.4 248.5,202.4"/>
<polygon class="pr" points="272.7,212.4 302.1,195.4 302.1,199.4 272.7,216.4"/>
<polygon class="t" points="248.3,175.5 277.5,158.7 302.6,173.2 273.4,190.0"/>
<polygon class="f" points="248.3,175.5 273.4,190.0 273.4,212.5 248.3,198.0"/>
<polygon class="r" points="273.4,190.0 302.6,173.2 302.6,195.7 273.4,212.5"/>
<polygon class="pt" points="274.4,213.4 303.9,196.4 328.1,210.4 298.7,227.4"/>
<polygon class="pf" points="274.4,213.4 298.7,227.4 298.7,231.4 274.4,217.4"/>
<polygon class="pr" points="298.7,227.4 328.1,210.4 328.1,214.4 298.7,231.4"/>
<polygon class="t" points="274.3,190.5 303.4,173.7 328.6,188.2 299.4,205.0"/>
<polygon class="f" points="274.3,190.5 299.4,205.0 299.4,227.5 274.3,213.0"/>
<polygon class="r" points="299.4,205.0 328.6,188.2 328.6,210.7 299.4,227.5"/>
<polygon class="pt" points="248.5,168.4 277.9,151.4 302.1,165.4 272.7,182.4"/>
<polygon class="pf" points="248.5,168.4 272.7,182.4 272.7,186.4 248.5,172.4"/>
<polygon class="pr" points="272.7,182.4 302.1,165.4 302.1,169.4 272.7,186.4"/>
<polygon class="t" points="248.3,145.5 277.5,128.7 302.6,143.2 273.4,160.0"/>
<polygon class="f" points="248.3,145.5 273.4,160.0 273.4,182.5 248.3,168.0"/>
<polygon class="r" points="273.4,160.0 302.6,143.2 302.6,165.7 273.4,182.5"/>
<polygon class="pt" points="274.4,183.4 303.9,166.4 328.1,180.4 298.7,197.4"/>
<polygon class="pf" points="274.4,183.4 298.7,197.4 298.7,201.4 274.4,187.4"/>
<polygon class="pr" points="298.7,197.4 328.1,180.4 328.1,184.4 298.7,201.4"/>
<polygon class="t" points="274.3,160.5 303.4,143.7 328.6,158.2 299.4,175.0"/>
<polygon class="f" points="274.3,160.5 299.4,175.0 299.4,197.5 274.3,183.0"/>
<polygon class="r" points="299.4,175.0 328.6,158.2 328.6,180.7 299.4,197.5"/>
<polygon points="249.5,173.0 304.9,205.0 304.9,206.2 249.5,174.2" fill="#ee5a48"/>
<polygon class="pt" points="248.5,138.4 277.9,121.4 302.1,135.4 272.7,152.4"/>
<polygon class="pf" points="248.5,138.4 272.7,152.4 272.7,156.4 248.5,142.4"/>
<polygon class="pr" points="272.7,152.4 302.1,135.4 302.1,139.4 272.7,156.4"/>
<polygon class="t" points="248.3,115.5 277.5,98.7 302.6,113.2 273.4,130.0"/>
<polygon class="f" points="248.3,115.5 273.4,130.0 273.4,152.5 248.3,138.0"/>
<polygon class="r" points="273.4,130.0 302.6,113.2 302.6,135.7 273.4,152.5"/>
<polygon class="pt" points="274.4,153.4 303.9,136.4 328.1,150.4 298.7,167.4"/>
<polygon class="pf" points="274.4,153.4 298.7,167.4 298.7,171.4 274.4,157.4"/>
<polygon class="pr" points="298.7,167.4 328.1,150.4 328.1,154.4 298.7,171.4"/>
<polygon class="t" points="274.3,130.5 303.4,113.7 328.6,128.2 299.4,145.0"/>
<polygon class="f" points="274.3,130.5 299.4,145.0 299.4,167.5 274.3,153.0"/>
<polygon class="r" points="299.4,145.0 328.6,128.2 328.6,150.7 299.4,167.5"/>
<polygon points="249.5,143.0 304.9,175.0 304.9,176.2 249.5,144.2" fill="#ee5a48"/>
<rect x="249.0" y="164.3" width="4.0" height="5.4" fill="#ea2a1f"/>
<rect x="249.0" y="134.3" width="4.0" height="5.4" fill="#ea2a1f"/>
<line x1="249.5" y1="198.5" x2="249.5" y2="191.5" stroke="#b9bdb6" stroke-width="3.6"/>
<line x1="249.5" y1="192.5" x2="249.5" y2="118.5" stroke="#2038c8" stroke-width="2.7"/>
<polygon class="pt" points="303.9,230.4 333.3,213.4 357.6,227.4 328.1,244.4"/>
<polygon class="pf" points="303.9,230.4 328.1,244.4 328.1,248.4 303.9,234.4"/>
<polygon class="pr" points="328.1,244.4 357.6,227.4 357.6,231.4 328.1,248.4"/>
<polygon class="t" points="303.7,207.5 332.9,190.7 358.0,205.2 328.8,222.0"/>
<polygon class="f" points="303.7,207.5 328.8,222.0 328.8,244.5 303.7,230.0"/>
<polygon class="r" points="328.8,222.0 358.0,205.2 358.0,227.7 328.8,244.5"/>
<polygon class="pt" points="329.9,245.4 359.3,228.4 383.6,242.4 354.1,259.4"/>
<polygon class="pf" points="329.9,245.4 354.1,259.4 354.1,263.4 329.9,249.4"/>
<polygon class="pr" points="354.1,259.4 383.6,242.4 383.6,246.4 354.1,263.4"/>
<polygon class="t" points="329.7,222.5 358.9,205.7 384.0,220.2 354.8,237.0"/>
<polygon class="f" points="329.7,222.5 354.8,237.0 354.8,259.5 329.7,245.0"/>
<polygon class="r" points="354.8,237.0 384.0,220.2 384.0,242.7 354.8,259.5"/>
<polygon class="pt" points="303.9,200.4 333.3,183.4 357.6,197.4 328.1,214.4"/>
<polygon class="pf" points="303.9,200.4 328.1,214.4 328.1,218.4 303.9,204.4"/>
<polygon class="pr" points="328.1,214.4 357.6,197.4 357.6,201.4 328.1,218.4"/>
<polygon class="t" points="303.7,177.5 332.9,160.7 358.0,175.2 328.8,192.0"/>
<polygon class="f" points="303.7,177.5 328.8,192.0 328.8,214.5 303.7,200.0"/>
<polygon class="r" points="328.8,192.0 358.0,175.2 358.0,197.7 328.8,214.5"/>
<polygon class="pt" points="329.9,215.4 359.3,198.4 383.6,212.4 354.1,229.4"/>
<polygon class="pf" points="329.9,215.4 354.1,229.4 354.1,233.4 329.9,219.4"/>
<polygon class="pr" points="354.1,229.4 383.6,212.4 383.6,216.4 354.1,233.4"/>
<polygon class="t" points="329.7,192.5 358.9,175.7 384.0,190.2 354.8,207.0"/>
<polygon class="f" points="329.7,192.5 354.8,207.0 354.8,229.5 329.7,215.0"/>
<polygon class="r" points="354.8,207.0 384.0,190.2 384.0,212.7 354.8,229.5"/>
<polygon points="304.9,205.0 360.3,237.0 360.3,238.2 304.9,206.2" fill="#ee5a48"/>
<polygon class="pt" points="303.9,170.4 333.3,153.4 357.6,167.4 328.1,184.4"/>
<polygon class="pf" points="303.9,170.4 328.1,184.4 328.1,188.4 303.9,174.4"/>
<polygon class="pr" points="328.1,184.4 357.6,167.4 357.6,171.4 328.1,188.4"/>
<polygon class="t" points="303.7,147.5 332.9,130.7 358.0,145.2 328.8,162.0"/>
<polygon class="f" points="303.7,147.5 328.8,162.0 328.8,184.5 303.7,170.0"/>
<polygon class="r" points="328.8,162.0 358.0,145.2 358.0,167.7 328.8,184.5"/>
<polygon class="pt" points="329.9,185.4 359.3,168.4 383.6,182.4 354.1,199.4"/>
<polygon class="pf" points="329.9,185.4 354.1,199.4 354.1,203.4 329.9,189.4"/>
<polygon class="pr" points="354.1,199.4 383.6,182.4 383.6,186.4 354.1,203.4"/>
<polygon class="t" points="329.7,162.5 358.9,145.7 384.0,160.2 354.8,177.0"/>
<polygon class="f" points="329.7,162.5 354.8,177.0 354.8,199.5 329.7,185.0"/>
<polygon class="r" points="354.8,177.0 384.0,160.2 384.0,182.7 354.8,199.5"/>
<polygon points="304.9,175.0 360.3,207.0 360.3,208.2 304.9,176.2" fill="#ee5a48"/>
<rect x="301.3" y="196.3" width="7.2" height="5.4" fill="#ea2a1f"/>
<rect x="301.3" y="166.3" width="7.2" height="5.4" fill="#ea2a1f"/>
<line x1="304.9" y1="230.5" x2="304.9" y2="223.5" stroke="#b9bdb6" stroke-width="3.6"/>
<line x1="304.9" y1="224.5" x2="304.9" y2="150.5" stroke="#2038c8" stroke-width="2.7"/>
<polygon class="pt" points="359.3,262.4 388.7,245.4 413.0,259.4 383.6,276.4"/>
<polygon class="pf" points="359.3,262.4 383.6,276.4 383.6,280.4 359.3,266.4"/>
<polygon class="pr" points="383.6,276.4 413.0,259.4 413.0,263.4 383.6,280.4"/>
<polygon class="t" points="359.1,239.5 388.3,222.7 413.4,237.1 384.2,254.0"/>
<polygon class="f" points="359.1,239.5 384.2,254.0 384.2,276.5 359.1,262.0"/>
<polygon class="r" points="384.2,254.0 413.4,237.1 413.4,259.6 384.2,276.5"/>
<polygon class="pt" points="385.3,277.4 414.7,260.4 439.0,274.4 409.5,291.4"/>
<polygon class="pf" points="385.3,277.4 409.5,291.4 409.5,295.4 385.3,281.4"/>
<polygon class="pr" points="409.5,291.4 439.0,274.4 439.0,278.4 409.5,295.4"/>
<polygon class="t" points="385.1,254.5 414.3,237.6 439.4,252.1 410.2,269.0"/>
<polygon class="f" points="385.1,254.5 410.2,269.0 410.2,291.5 385.1,277.0"/>
<polygon class="r" points="410.2,269.0 439.4,252.1 439.4,274.6 410.2,291.5"/>
<polygon class="pt" points="359.3,232.4 388.7,215.4 413.0,229.4 383.6,246.4"/>
<polygon class="pf" points="359.3,232.4 383.6,246.4 383.6,250.4 359.3,236.4"/>
<polygon class="pr" points="383.6,246.4 413.0,229.4 413.0,233.4 383.6,250.4"/>
<polygon class="t" points="359.1,209.5 388.3,192.7 413.4,207.1 384.2,224.0"/>
<polygon class="f" points="359.1,209.5 384.2,224.0 384.2,246.5 359.1,232.0"/>
<polygon class="r" points="384.2,224.0 413.4,207.1 413.4,229.6 384.2,246.5"/>
<polygon class="pt" points="385.3,247.4 414.7,230.4 439.0,244.4 409.5,261.4"/>
<polygon class="pf" points="385.3,247.4 409.5,261.4 409.5,265.4 385.3,251.4"/>
<polygon class="pr" points="409.5,261.4 439.0,244.4 439.0,248.4 409.5,265.4"/>
<polygon class="t" points="385.1,224.5 414.3,207.6 439.4,222.1 410.2,239.0"/>
<polygon class="f" points="385.1,224.5 410.2,239.0 410.2,261.5 385.1,247.0"/>
<polygon class="r" points="410.2,239.0 439.4,222.1 439.4,244.6 410.2,261.5"/>
<polygon points="360.3,237.0 415.8,269.0 415.8,270.2 360.3,238.2" fill="#ee5a48"/>
<polygon class="pt" points="359.3,202.4 388.7,185.4 413.0,199.4 383.6,216.4"/>
<polygon class="pf" points="359.3,202.4 383.6,216.4 383.6,220.4 359.3,206.4"/>
<polygon class="pr" points="383.6,216.4 413.0,199.4 413.0,203.4 383.6,220.4"/>
<polygon class="t" points="359.1,179.5 388.3,162.7 413.4,177.1 384.2,194.0"/>
<polygon class="f" points="359.1,179.5 384.2,194.0 384.2,216.5 359.1,202.0"/>
<polygon class="r" points="384.2,194.0 413.4,177.1 413.4,199.6 384.2,216.5"/>
<polygon class="pt" points="385.3,217.4 414.7,200.4 439.0,214.4 409.5,231.4"/>
<polygon class="pf" points="385.3,217.4 409.5,231.4 409.5,235.4 385.3,221.4"/>
<polygon class="pr" points="409.5,231.4 439.0,214.4 439.0,218.4 409.5,235.4"/>
<polygon class="t" points="385.1,194.5 414.3,177.6 439.4,192.1 410.2,209.0"/>
<polygon class="f" points="385.1,194.5 410.2,209.0 410.2,231.5 385.1,217.0"/>
<polygon class="r" points="410.2,209.0 439.4,192.1 439.4,214.6 410.2,231.5"/>
<polygon points="360.3,207.0 415.8,239.0 415.8,240.2 360.3,208.2" fill="#ee5a48"/>
<rect x="356.7" y="228.3" width="7.2" height="5.4" fill="#ea2a1f"/>
<rect x="356.7" y="198.3" width="7.2" height="5.4" fill="#ea2a1f"/>
<line x1="360.3" y1="262.5" x2="360.3" y2="255.5" stroke="#b9bdb6" stroke-width="3.6"/>
<line x1="360.3" y1="256.5" x2="360.3" y2="182.5" stroke="#2038c8" stroke-width="2.7"/>
<polygon class="pt" points="414.7,294.4 444.2,277.4 468.4,291.4 439.0,308.4"/>
<polygon class="pf" points="414.7,294.4 439.0,308.4 439.0,312.4 414.7,298.4"/>
<polygon class="pr" points="439.0,308.4 468.4,291.4 468.4,295.4 439.0,312.4"/>
<polygon class="t" points="414.6,271.5 443.7,254.6 468.9,269.1 439.7,286.0"/>
<polygon class="f" points="414.6,271.5 439.7,286.0 439.7,308.5 414.6,294.0"/>
<polygon class="r" points="439.7,286.0 468.9,269.1 468.9,291.6 439.7,308.5"/>
<polygon class="pt" points="440.7,309.4 470.2,292.4 494.4,306.4 465.0,323.4"/>
<polygon class="pf" points="440.7,309.4 465.0,323.4 465.0,327.4 440.7,313.4"/>
<polygon class="pr" points="465.0,323.4 494.4,306.4 494.4,310.4 465.0,327.4"/>
<polygon class="t" points="440.5,286.5 469.7,269.6 494.8,284.1 465.6,301.0"/>
<polygon class="f" points="440.5,286.5 465.6,301.0 465.6,323.5 440.5,309.0"/>
<polygon class="r" points="465.6,301.0 494.8,284.1 494.8,306.6 465.6,323.5"/>
<polygon class="pt" points="414.7,264.4 444.2,247.4 468.4,261.4 439.0,278.4"/>
<polygon class="pf" points="414.7,264.4 439.0,278.4 439.0,282.4 414.7,268.4"/>
<polygon class="pr" points="439.0,278.4 468.4,261.4 468.4,265.4 439.0,282.4"/>
<polygon class="t" points="414.6,241.5 443.7,224.6 468.9,239.1 439.7,256.0"/>
<polygon class="f" points="414.6,241.5 439.7,256.0 439.7,278.5 414.6,264.0"/>
<polygon class="r" points="439.7,256.0 468.9,239.1 468.9,261.6 439.7,278.5"/>
<polygon class="pt" points="440.7,279.4 470.2,262.4 494.4,276.4 465.0,293.4"/>
<polygon class="pf" points="440.7,279.4 465.0,293.4 465.0,297.4 440.7,283.4"/>
<polygon class="pr" points="465.0,293.4 494.4,276.4 494.4,280.4 465.0,297.4"/>
<polygon class="t" points="440.5,256.5 469.7,239.6 494.8,254.1 465.6,271.0"/>
<polygon class="f" points="440.5,256.5 465.6,271.0 465.6,293.5 440.5,279.0"/>
<polygon class="r" points="465.6,271.0 494.8,254.1 494.8,276.6 465.6,293.5"/>
<polygon points="415.8,269.0 471.2,301.0 471.2,302.2 415.8,270.2" fill="#ee5a48"/>
<polygon class="pt" points="414.7,234.4 444.2,217.4 468.4,231.4 439.0,248.4"/>
<polygon class="pf" points="414.7,234.4 439.0,248.4 439.0,252.4 414.7,238.4"/>
<polygon class="pr" points="439.0,248.4 468.4,231.4 468.4,235.4 439.0,252.4"/>
<polygon class="t" points="414.6,211.5 443.7,194.6 468.9,209.1 439.7,226.0"/>
<polygon class="f" points="414.6,211.5 439.7,226.0 439.7,248.5 414.6,234.0"/>
<polygon class="r" points="439.7,226.0 468.9,209.1 468.9,231.6 439.7,248.5"/>
<polygon class="pt" points="440.7,249.4 470.2,232.4 494.4,246.4 465.0,263.4"/>
<polygon class="pf" points="440.7,249.4 465.0,263.4 465.0,267.4 440.7,253.4"/>
<polygon class="pr" points="465.0,263.4 494.4,246.4 494.4,250.4 465.0,267.4"/>
<polygon class="t" points="440.5,226.5 469.7,209.6 494.8,224.1 465.6,241.0"/>
<polygon class="f" points="440.5,226.5 465.6,241.0 465.6,263.5 440.5,249.0"/>
<polygon class="r" points="465.6,241.0 494.8,224.1 494.8,246.6 465.6,263.5"/>
<polygon points="415.8,239.0 471.2,271.0 471.2,272.2 415.8,240.2" fill="#ee5a48"/>
<rect x="412.2" y="260.3" width="7.2" height="5.4" fill="#ea2a1f"/>
<rect x="412.2" y="230.3" width="7.2" height="5.4" fill="#ea2a1f"/>
<line x1="415.8" y1="294.5" x2="415.8" y2="287.5" stroke="#b9bdb6" stroke-width="3.6"/>
<line x1="415.8" y1="288.5" x2="415.8" y2="214.5" stroke="#2038c8" stroke-width="2.7"/>
<rect x="467.6" y="292.3" width="4.0" height="5.4" fill="#ea2a1f"/>
<polygon points="471.2,293.0 476.4,292.5 471.2,299.0" fill="#ea2a1f"/>
<polygon points="492.8,280.5 487.6,286.0 492.8,286.5" fill="#f0602a"/>
<rect x="467.6" y="262.3" width="4.0" height="5.4" fill="#ea2a1f"/>
<polygon points="471.2,263.0 476.4,262.5 471.2,269.0" fill="#ea2a1f"/>
<polygon points="492.8,250.5 487.6,256.0 492.8,256.5" fill="#f0602a"/>
<line x1="492.8" y1="314.0" x2="492.8" y2="307.0" stroke="#b9bdb6" stroke-width="3.6"/>
<line x1="492.8" y1="308.0" x2="492.8" y2="234.0" stroke="#2038c8" stroke-width="2.7"/>
<line x1="471.2" y1="317.5" x2="492.8" y2="305.0" stroke="#2038c8" stroke-width="2.1"/>
<line x1="471.2" y1="286.5" x2="492.8" y2="274.0" stroke="#2038c8" stroke-width="2.1"/>
<line x1="471.2" y1="254.5" x2="492.8" y2="242.0" stroke="#2038c8" stroke-width="2.1"/>
<line x1="471.2" y1="316.5" x2="492.8" y2="276.0" stroke="#2038c8" stroke-width="1.8"/>
<line x1="471.2" y1="285.5" x2="492.8" y2="244.0" stroke="#2038c8" stroke-width="1.8"/>
<line x1="471.2" y1="326.5" x2="471.2" y2="319.5" stroke="#b9bdb6" stroke-width="3.6"/>
<line x1="471.2" y1="320.5" x2="471.2" y2="246.5" stroke="#2038c8" stroke-width="2.7"/>
<line x1="240.8" y1="203.5" x2="240.8" y2="196.5" stroke="#b9bdb6" stroke-width="3.6"/>
<line x1="240.8" y1="197.5" x2="240.8" y2="123.5" stroke="#2038c8" stroke-width="2.7"/>
<line x1="219.2" y1="207.0" x2="240.8" y2="194.5" stroke="#2038c8" stroke-width="2.1"/>
<line x1="219.2" y1="176.0" x2="240.8" y2="163.5" stroke="#2038c8" stroke-width="2.1"/>
<line x1="219.2" y1="144.0" x2="240.8" y2="131.5" stroke="#2038c8" stroke-width="2.1"/>
<line x1="240.8" y1="193.5" x2="219.2" y2="178.0" stroke="#2038c8" stroke-width="1.8"/>
<line x1="240.8" y1="162.5" x2="219.2" y2="146.0" stroke="#2038c8" stroke-width="1.8"/>
<polygon class="pt" points="218.1,215.9 247.6,198.9 271.8,212.9 242.4,229.9"/>
<polygon class="pf" points="218.1,215.9 242.4,229.9 242.4,233.9 218.1,219.9"/>
<polygon class="pr" points="242.4,229.9 271.8,212.9 271.8,216.9 242.4,233.9"/>
<polygon class="t" points="218.0,193.0 247.2,176.2 272.3,190.7 243.1,207.5"/>
<polygon class="f" points="218.0,193.0 243.1,207.5 243.1,230.0 218.0,215.5"/>
<polygon class="r" points="243.1,207.5 272.3,190.7 272.3,213.2 243.1,230.0"/>
<polygon class="pt" points="244.1,230.9 273.6,213.9 297.8,227.9 268.4,244.9"/>
<polygon class="pf" points="244.1,230.9 268.4,244.9 268.4,248.9 244.1,234.9"/>
<polygon class="pr" points="268.4,244.9 297.8,227.9 297.8,231.9 268.4,248.9"/>
<polygon class="t" points="244.0,208.0 273.1,191.2 298.2,205.7 269.1,222.5"/>
<polygon class="f" points="244.0,208.0 269.1,222.5 269.1,245.0 244.0,230.5"/>
<polygon class="r" points="269.1,222.5 298.2,205.7 298.2,228.2 269.1,245.0"/>
<polygon class="pt" points="218.1,185.9 247.6,168.9 271.8,182.9 242.4,199.9"/>
<polygon class="pf" points="218.1,185.9 242.4,199.9 242.4,203.9 218.1,189.9"/>
<polygon class="pr" points="242.4,199.9 271.8,182.9 271.8,186.9 242.4,203.9"/>
<polygon class="t" points="218.0,163.0 247.2,146.2 272.3,160.7 243.1,177.5"/>
<polygon class="f" points="218.0,163.0 243.1,177.5 243.1,200.0 218.0,185.5"/>
<polygon class="r" points="243.1,177.5 272.3,160.7 272.3,183.2 243.1,200.0"/>
<polygon class="pt" points="244.1,200.9 273.6,183.9 297.8,197.9 268.4,214.9"/>
<polygon class="pf" points="244.1,200.9 268.4,214.9 268.4,218.9 244.1,204.9"/>
<polygon class="pr" points="268.4,214.9 297.8,197.9 297.8,201.9 268.4,218.9"/>
<polygon class="t" points="244.0,178.0 273.1,161.2 298.2,175.7 269.1,192.5"/>
<polygon class="f" points="244.0,178.0 269.1,192.5 269.1,215.0 244.0,200.5"/>
<polygon class="r" points="269.1,192.5 298.2,175.7 298.2,198.2 269.1,215.0"/>
<polygon points="219.2,190.5 274.6,222.5 274.6,223.7 219.2,191.7" fill="#ee5a48"/>
<polygon class="pt" points="218.1,155.9 247.6,138.9 271.8,152.9 242.4,169.9"/>
<polygon class="pf" points="218.1,155.9 242.4,169.9 242.4,173.9 218.1,159.9"/>
<polygon class="pr" points="242.4,169.9 271.8,152.9 271.8,156.9 242.4,173.9"/>
<polygon class="t" points="218.0,133.0 247.2,116.2 272.3,130.7 243.1,147.5"/>
<polygon class="f" points="218.0,133.0 243.1,147.5 243.1,170.0 218.0,155.5"/>
<polygon class="r" points="243.1,147.5 272.3,130.7 272.3,153.2 243.1,170.0"/>
<polygon class="pt" points="244.1,170.9 273.6,153.9 297.8,167.9 268.4,184.9"/>
<polygon class="pf" points="244.1,170.9 268.4,184.9 268.4,188.9 244.1,174.9"/>
<polygon class="pr" points="268.4,184.9 297.8,167.9 297.8,171.9 268.4,188.9"/>
<polygon class="t" points="244.0,148.0 273.1,131.2 298.2,145.7 269.1,162.5"/>
<polygon class="f" points="244.0,148.0 269.1,162.5 269.1,185.0 244.0,170.5"/>
<polygon class="r" points="269.1,162.5 298.2,145.7 298.2,168.2 269.1,185.0"/>
<polygon points="219.2,160.5 274.6,192.5 274.6,193.7 219.2,161.7" fill="#ee5a48"/>
<rect x="218.7" y="181.8" width="4.0" height="5.4" fill="#ea2a1f"/>
<rect x="218.7" y="151.8" width="4.0" height="5.4" fill="#ea2a1f"/>
<line x1="219.2" y1="216.0" x2="219.2" y2="209.0" stroke="#b9bdb6" stroke-width="3.6"/>
<line x1="219.2" y1="210.0" x2="219.2" y2="136.0" stroke="#2038c8" stroke-width="2.7"/>
<polygon class="pt" points="273.6,247.9 303.0,230.9 327.3,244.9 297.8,261.9"/>
<polygon class="pf" points="273.6,247.9 297.8,261.9 297.8,265.9 273.6,251.9"/>
<polygon class="pr" points="297.8,261.9 327.3,244.9 327.3,248.9 297.8,265.9"/>
<polygon class="t" points="273.4,225.0 302.6,208.2 327.7,222.7 298.5,239.5"/>
<polygon class="f" points="273.4,225.0 298.5,239.5 298.5,262.0 273.4,247.5"/>
<polygon class="r" points="298.5,239.5 327.7,222.7 327.7,245.2 298.5,262.0"/>
<polygon class="pt" points="299.5,262.9 329.0,245.9 353.2,259.9 323.8,276.9"/>
<polygon class="pf" points="299.5,262.9 323.8,276.9 323.8,280.9 299.5,266.9"/>
<polygon class="pr" points="323.8,276.9 353.2,259.9 353.2,263.9 323.8,280.9"/>
<polygon class="t" points="299.4,240.0 328.6,223.2 353.7,237.6 324.5,254.5"/>
<polygon class="f" points="299.4,240.0 324.5,254.5 324.5,277.0 299.4,262.5"/>
<polygon class="r" points="324.5,254.5 353.7,237.6 353.7,260.1 324.5,277.0"/>
<polygon class="pt" points="273.6,217.9 303.0,200.9 327.3,214.9 297.8,231.9"/>
<polygon class="pf" points="273.6,217.9 297.8,231.9 297.8,235.9 273.6,221.9"/>
<polygon class="pr" points="297.8,231.9 327.3,214.9 327.3,218.9 297.8,235.9"/>
<polygon class="t" points="273.4,195.0 302.6,178.2 327.7,192.7 298.5,209.5"/>
<polygon class="f" points="273.4,195.0 298.5,209.5 298.5,232.0 273.4,217.5"/>
<polygon class="r" points="298.5,209.5 327.7,192.7 327.7,215.2 298.5,232.0"/>
<polygon class="pt" points="299.5,232.9 329.0,215.9 353.2,229.9 323.8,246.9"/>
<polygon class="pf" points="299.5,232.9 323.8,246.9 323.8,250.9 299.5,236.9"/>
<polygon class="pr" points="323.8,246.9 353.2,229.9 353.2,233.9 323.8,250.9"/>
<polygon class="t" points="299.4,210.0 328.6,193.2 353.7,207.6 324.5,224.5"/>
<polygon class="f" points="299.4,210.0 324.5,224.5 324.5,247.0 299.4,232.5"/>
<polygon class="r" points="324.5,224.5 353.7,207.6 353.7,230.1 324.5,247.0"/>
<polygon points="274.6,222.5 330.0,254.5 330.0,255.7 274.6,223.7" fill="#ee5a48"/>
<polygon class="pt" points="273.6,187.9 303.0,170.9 327.3,184.9 297.8,201.9"/>
<polygon class="pf" points="273.6,187.9 297.8,201.9 297.8,205.9 273.6,191.9"/>
<polygon class="pr" points="297.8,201.9 327.3,184.9 327.3,188.9 297.8,205.9"/>
<polygon class="t" points="273.4,165.0 302.6,148.2 327.7,162.7 298.5,179.5"/>
<polygon class="f" points="273.4,165.0 298.5,179.5 298.5,202.0 273.4,187.5"/>
<polygon class="r" points="298.5,179.5 327.7,162.7 327.7,185.2 298.5,202.0"/>
<polygon class="pt" points="299.5,202.9 329.0,185.9 353.2,199.9 323.8,216.9"/>
<polygon class="pf" points="299.5,202.9 323.8,216.9 323.8,220.9 299.5,206.9"/>
<polygon class="pr" points="323.8,216.9 353.2,199.9 353.2,203.9 323.8,220.9"/>
<polygon class="t" points="299.4,180.0 328.6,163.2 353.7,177.6 324.5,194.5"/>
<polygon class="f" points="299.4,180.0 324.5,194.5 324.5,217.0 299.4,202.5"/>
<polygon class="r" points="324.5,194.5 353.7,177.6 353.7,200.1 324.5,217.0"/>
<polygon points="274.6,192.5 330.0,224.5 330.0,225.7 274.6,193.7" fill="#ee5a48"/>
<rect x="271.0" y="213.8" width="7.2" height="5.4" fill="#ea2a1f"/>
<rect x="271.0" y="183.8" width="7.2" height="5.4" fill="#ea2a1f"/>
<line x1="274.6" y1="248.0" x2="274.6" y2="241.0" stroke="#b9bdb6" stroke-width="3.6"/>
<line x1="274.6" y1="242.0" x2="274.6" y2="168.0" stroke="#2038c8" stroke-width="2.7"/>
<polygon class="pt" points="329.0,279.9 358.4,262.9 382.7,276.9 353.2,293.9"/>
<polygon class="pf" points="329.0,279.9 353.2,293.9 353.2,297.9 329.0,283.9"/>
<polygon class="pr" points="353.2,293.9 382.7,276.9 382.7,280.9 353.2,297.9"/>
<polygon class="t" points="328.8,257.0 358.0,240.1 383.1,254.6 353.9,271.5"/>
<polygon class="f" points="328.8,257.0 353.9,271.5 353.9,294.0 328.8,279.5"/>
<polygon class="r" points="353.9,271.5 383.1,254.6 383.1,277.1 353.9,294.0"/>
<polygon class="pt" points="355.0,294.9 384.4,277.9 408.7,291.9 379.2,308.9"/>
<polygon class="pf" points="355.0,294.9 379.2,308.9 379.2,312.9 355.0,298.9"/>
<polygon class="pr" points="379.2,308.9 408.7,291.9 408.7,295.9 379.2,312.9"/>
<polygon class="t" points="354.8,272.0 384.0,255.1 409.1,269.6 379.9,286.5"/>
<polygon class="f" points="354.8,272.0 379.9,286.5 379.9,309.0 354.8,294.5"/>
<polygon class="r" points="379.9,286.5 409.1,269.6 409.1,292.1 379.9,309.0"/>
<polygon class="pt" points="329.0,249.9 358.4,232.9 382.7,246.9 353.2,263.9"/>
<polygon class="pf" points="329.0,249.9 353.2,263.9 353.2,267.9 329.0,253.9"/>
<polygon class="pr" points="353.2,263.9 382.7,246.9 382.7,250.9 353.2,267.9"/>
<polygon class="t" points="328.8,227.0 358.0,210.1 383.1,224.6 353.9,241.5"/>
<polygon class="f" points="328.8,227.0 353.9,241.5 353.9,264.0 328.8,249.5"/>
<polygon class="r" points="353.9,241.5 383.1,224.6 383.1,247.1 353.9,264.0"/>
<polygon class="pt" points="355.0,264.9 384.4,247.9 408.7,261.9 379.2,278.9"/>
<polygon class="pf" points="355.0,264.9 379.2,278.9 379.2,282.9 355.0,268.9"/>
<polygon class="pr" points="379.2,278.9 408.7,261.9 408.7,265.9 379.2,282.9"/>
<polygon class="t" points="354.8,242.0 384.0,225.1 409.1,239.6 379.9,256.5"/>
<polygon class="f" points="354.8,242.0 379.9,256.5 379.9,279.0 354.8,264.5"/>
<polygon class="r" points="379.9,256.5 409.1,239.6 409.1,262.1 379.9,279.0"/>
<polygon points="330.0,254.5 385.5,286.5 385.5,287.7 330.0,255.7" fill="#ee5a48"/>
<polygon class="pt" points="329.0,219.9 358.4,202.9 382.7,216.9 353.2,233.9"/>
<polygon class="pf" points="329.0,219.9 353.2,233.9 353.2,237.9 329.0,223.9"/>
<polygon class="pr" points="353.2,233.9 382.7,216.9 382.7,220.9 353.2,237.9"/>
<polygon class="t" points="328.8,197.0 358.0,180.1 383.1,194.6 353.9,211.5"/>
<polygon class="f" points="328.8,197.0 353.9,211.5 353.9,234.0 328.8,219.5"/>
<polygon class="r" points="353.9,211.5 383.1,194.6 383.1,217.1 353.9,234.0"/>
<polygon class="pt" points="355.0,234.9 384.4,217.9 408.7,231.9 379.2,248.9"/>
<polygon class="pf" points="355.0,234.9 379.2,248.9 379.2,252.9 355.0,238.9"/>
<polygon class="pr" points="379.2,248.9 408.7,231.9 408.7,235.9 379.2,252.9"/>
<polygon class="t" points="354.8,212.0 384.0,195.1 409.1,209.6 379.9,226.5"/>
<polygon class="f" points="354.8,212.0 379.9,226.5 379.9,249.0 354.8,234.5"/>
<polygon class="r" points="379.9,226.5 409.1,209.6 409.1,232.1 379.9,249.0"/>
<polygon points="330.0,224.5 385.5,256.5 385.5,257.7 330.0,225.7" fill="#ee5a48"/>
<rect x="326.4" y="245.8" width="7.2" height="5.4" fill="#ea2a1f"/>
<rect x="326.4" y="215.8" width="7.2" height="5.4" fill="#ea2a1f"/>
<line x1="330.0" y1="280.0" x2="330.0" y2="273.0" stroke="#b9bdb6" stroke-width="3.6"/>
<line x1="330.0" y1="274.0" x2="330.0" y2="200.0" stroke="#2038c8" stroke-width="2.7"/>
<polygon class="pt" points="384.4,311.9 413.9,294.9 438.1,308.9 408.7,325.9"/>
<polygon class="pf" points="384.4,311.9 408.7,325.9 408.7,329.9 384.4,315.9"/>
<polygon class="pr" points="408.7,325.9 438.1,308.9 438.1,312.9 408.7,329.9"/>
<polygon class="t" points="384.2,289.0 413.4,272.1 438.5,286.6 409.4,303.5"/>
<polygon class="f" points="384.2,289.0 409.4,303.5 409.4,326.0 384.2,311.5"/>
<polygon class="r" points="409.4,303.5 438.5,286.6 438.5,309.1 409.4,326.0"/>
<polygon class="pt" points="410.4,326.9 439.8,309.9 464.1,323.9 434.6,340.9"/>
<polygon class="pf" points="410.4,326.9 434.6,340.9 434.6,344.9 410.4,330.9"/>
<polygon class="pr" points="434.6,340.9 464.1,323.9 464.1,327.9 434.6,344.9"/>
<polygon class="t" points="410.2,304.0 439.4,287.1 464.5,301.6 435.3,318.5"/>
<polygon class="f" points="410.2,304.0 435.3,318.5 435.3,341.0 410.2,326.5"/>
<polygon class="r" points="435.3,318.5 464.5,301.6 464.5,324.1 435.3,341.0"/>
<polygon class="pt" points="384.4,281.9 413.9,264.9 438.1,278.9 408.7,295.9"/>
<polygon class="pf" points="384.4,281.9 408.7,295.9 408.7,299.9 384.4,285.9"/>
<polygon class="pr" points="408.7,295.9 438.1,278.9 438.1,282.9 408.7,299.9"/>
<polygon class="t" points="384.2,259.0 413.4,242.1 438.5,256.6 409.4,273.5"/>
<polygon class="f" points="384.2,259.0 409.4,273.5 409.4,296.0 384.2,281.5"/>
<polygon class="r" points="409.4,273.5 438.5,256.6 438.5,279.1 409.4,296.0"/>
<polygon class="pt" points="410.4,296.9 439.8,279.9 464.1,293.9 434.6,310.9"/>
<polygon class="pf" points="410.4,296.9 434.6,310.9 434.6,314.9 410.4,300.9"/>
<polygon class="pr" points="434.6,310.9 464.1,293.9 464.1,297.9 434.6,314.9"/>
<polygon class="t" points="410.2,274.0 439.4,257.1 464.5,271.6 435.3,288.5"/>
<polygon class="f" points="410.2,274.0 435.3,288.5 435.3,311.0 410.2,296.5"/>
<polygon class="r" points="435.3,288.5 464.5,271.6 464.5,294.1 435.3,311.0"/>
<polygon points="385.5,286.5 440.9,318.5 440.9,319.7 385.5,287.7" fill="#ee5a48"/>
<polygon class="pt" points="384.4,251.9 413.9,234.9 438.1,248.9 408.7,265.9"/>
<polygon class="pf" points="384.4,251.9 408.7,265.9 408.7,269.9 384.4,255.9"/>
<polygon class="pr" points="408.7,265.9 438.1,248.9 438.1,252.9 408.7,269.9"/>
<polygon class="t" points="384.2,229.0 413.4,212.1 438.5,226.6 409.4,243.5"/>
<polygon class="f" points="384.2,229.0 409.4,243.5 409.4,266.0 384.2,251.5"/>
<polygon class="r" points="409.4,243.5 438.5,226.6 438.5,249.1 409.4,266.0"/>
<polygon class="pt" points="410.4,266.9 439.8,249.9 464.1,263.9 434.6,280.9"/>
<polygon class="pf" points="410.4,266.9 434.6,280.9 434.6,284.9 410.4,270.9"/>
<polygon class="pr" points="434.6,280.9 464.1,263.9 464.1,267.9 434.6,284.9"/>
<polygon class="t" points="410.2,244.0 439.4,227.1 464.5,241.6 435.3,258.5"/>
<polygon class="f" points="410.2,244.0 435.3,258.5 435.3,281.0 410.2,266.5"/>
<polygon class="r" points="435.3,258.5 464.5,241.6 464.5,264.1 435.3,281.0"/>
<polygon points="385.5,256.5 440.9,288.5 440.9,289.7 385.5,257.7" fill="#ee5a48"/>
<rect x="381.9" y="277.8" width="7.2" height="5.4" fill="#ea2a1f"/>
<rect x="381.9" y="247.8" width="7.2" height="5.4" fill="#ea2a1f"/>
<line x1="385.5" y1="312.0" x2="385.5" y2="305.0" stroke="#b9bdb6" stroke-width="3.6"/>
<line x1="385.5" y1="306.0" x2="385.5" y2="232.0" stroke="#2038c8" stroke-width="2.7"/>
<rect x="437.3" y="309.8" width="4.0" height="5.4" fill="#ea2a1f"/>
<polygon points="440.9,310.5 446.1,310.0 440.9,316.5" fill="#ea2a1f"/>
<polygon points="462.5,298.0 457.3,303.5 462.5,304.0" fill="#f0602a"/>
<rect x="437.3" y="279.8" width="4.0" height="5.4" fill="#ea2a1f"/>
<polygon points="440.9,280.5 446.1,280.0 440.9,286.5" fill="#ea2a1f"/>
<polygon points="462.5,268.0 457.3,273.5 462.5,274.0" fill="#f0602a"/>
<line x1="462.5" y1="331.5" x2="462.5" y2="324.5" stroke="#b9bdb6" stroke-width="3.6"/>
<line x1="462.5" y1="325.5" x2="462.5" y2="251.5" stroke="#2038c8" stroke-width="2.7"/>
<line x1="440.9" y1="335.0" x2="462.5" y2="322.5" stroke="#2038c8" stroke-width="2.1"/>
<line x1="440.9" y1="304.0" x2="462.5" y2="291.5" stroke="#2038c8" stroke-width="2.1"/>
<line x1="440.9" y1="272.0" x2="462.5" y2="259.5" stroke="#2038c8" stroke-width="2.1"/>
<line x1="462.5" y1="321.5" x2="440.9" y2="306.0" stroke="#2038c8" stroke-width="1.8"/>
<line x1="462.5" y1="290.5" x2="440.9" y2="274.0" stroke="#2038c8" stroke-width="1.8"/>
<line x1="440.9" y1="344.0" x2="440.9" y2="337.0" stroke="#b9bdb6" stroke-width="3.6"/>
<line x1="440.9" y1="338.0" x2="440.9" y2="264.0" stroke="#2038c8" stroke-width="2.7"/>
<line x1="210.5" y1="221.0" x2="210.5" y2="214.0" stroke="#b9bdb6" stroke-width="3.6"/>
<line x1="210.5" y1="215.0" x2="210.5" y2="141.0" stroke="#2038c8" stroke-width="2.7"/>
<line x1="188.9" y1="224.5" x2="210.5" y2="212.0" stroke="#2038c8" stroke-width="2.1"/>
<line x1="188.9" y1="193.5" x2="210.5" y2="181.0" stroke="#2038c8" stroke-width="2.1"/>
<line x1="188.9" y1="161.5" x2="210.5" y2="149.0" stroke="#2038c8" stroke-width="2.1"/>
<line x1="188.9" y1="223.5" x2="210.5" y2="183.0" stroke="#2038c8" stroke-width="1.8"/>
<line x1="188.9" y1="192.5" x2="210.5" y2="151.0" stroke="#2038c8" stroke-width="1.8"/>
<polygon points="209.5,158.6 211.6,157.4 267.0,189.4 264.9,190.6" fill="#f2524a"/>
<polygon points="209.5,158.6 264.9,190.6 264.9,195.6 209.5,163.6" fill="#ea2a1f"/>
<polygon points="264.9,190.6 267.0,189.4 267.0,194.4 264.9,195.6" fill="#c81e14"/>
<polygon class="pt" points="188.7,232.9 217.3,216.4 241.5,230.4 212.9,246.9"/>
<polygon class="pf" points="188.7,232.9 212.9,246.9 212.9,250.9 188.7,236.9"/>
<polygon class="pr" points="212.9,246.9 241.5,230.4 241.5,234.4 212.9,250.9"/>
<polygon class="t" points="188.5,210.0 216.8,193.7 242.0,208.2 213.6,224.5"/>
<polygon class="f" points="188.5,210.0 213.6,224.5 213.6,247.0 188.5,232.5"/>
<polygon class="r" points="213.6,224.5 242.0,208.2 242.0,230.7 213.6,247.0"/>
<polygon class="pt" points="214.7,247.9 243.3,231.4 267.5,245.4 238.9,261.9"/>
<polygon class="pf" points="214.7,247.9 238.9,261.9 238.9,265.9 214.7,251.9"/>
<polygon class="pr" points="238.9,261.9 267.5,245.4 267.5,249.4 238.9,265.9"/>
<polygon class="t" points="214.5,225.0 242.8,208.7 267.9,223.2 239.6,239.5"/>
<polygon class="f" points="214.5,225.0 239.6,239.5 239.6,262.0 214.5,247.5"/>
<polygon class="r" points="239.6,239.5 267.9,223.2 267.9,245.7 239.6,262.0"/>
<polygon class="pt" points="188.7,202.9 217.3,186.4 241.5,200.4 212.9,216.9"/>
<polygon class="pf" points="188.7,202.9 212.9,216.9 212.9,220.9 188.7,206.9"/>
<polygon class="pr" points="212.9,216.9 241.5,200.4 241.5,204.4 212.9,220.9"/>
<polygon class="t" points="188.5,180.0 216.8,163.7 242.0,178.2 213.6,194.5"/>
<polygon class="f" points="188.5,180.0 213.6,194.5 213.6,217.0 188.5,202.5"/>
<polygon class="r" points="213.6,194.5 242.0,178.2 242.0,200.7 213.6,217.0"/>
<polygon class="pt" points="214.7,217.9 243.3,201.4 267.5,215.4 238.9,231.9"/>
<polygon class="pf" points="214.7,217.9 238.9,231.9 238.9,235.9 214.7,221.9"/>
<polygon class="pr" points="238.9,231.9 267.5,215.4 267.5,219.4 238.9,235.9"/>
<polygon class="t" points="214.5,195.0 242.8,178.7 267.9,193.2 239.6,209.5"/>
<polygon class="f" points="214.5,195.0 239.6,209.5 239.6,232.0 214.5,217.5"/>
<polygon class="r" points="239.6,209.5 267.9,193.2 267.9,215.7 239.6,232.0"/>
<polygon points="188.9,207.0 244.3,239.0 244.3,240.2 188.9,208.2" fill="#ee5a48"/>
<polygon points="187.8,171.1 189.9,169.9 245.3,201.9 243.3,203.1" fill="#f2524a"/>
<polygon points="187.8,171.1 243.3,203.1 243.3,208.1 187.8,176.1" fill="#ea2a1f"/>
<polygon points="243.3,203.1 245.3,201.9 245.3,206.9 243.3,208.1" fill="#c81e14"/>
<rect x="188.4" y="199.3" width="4.0" height="5.4" fill="#ea2a1f"/>
<rect x="188.4" y="169.3" width="4.0" height="5.4" fill="#ea2a1f"/>
<line x1="188.9" y1="233.5" x2="188.9" y2="226.5" stroke="#b9bdb6" stroke-width="3.6"/>
<line x1="188.9" y1="227.5" x2="188.9" y2="153.5" stroke="#2038c8" stroke-width="2.7"/>
<line x1="265.9" y1="253.0" x2="265.9" y2="246.0" stroke="#b9bdb6" stroke-width="3.6"/>
<line x1="265.9" y1="247.0" x2="265.9" y2="173.0" stroke="#2038c8" stroke-width="2.7"/>
<line x1="244.3" y1="193.5" x2="265.9" y2="181.0" stroke="#2038c8" stroke-width="2.1"/>
<line x1="244.3" y1="224.5" x2="265.9" y2="183.0" stroke="#2038c8" stroke-width="1.8"/>
<polygon points="264.9,190.6 267.0,189.4 322.4,221.4 320.3,222.6" fill="#f2524a"/>
<polygon points="264.9,190.6 320.3,222.6 320.3,227.6 264.9,195.6" fill="#ea2a1f"/>
<polygon points="320.3,222.6 322.4,221.4 322.4,226.4 320.3,227.6" fill="#c81e14"/>
<polygon class="pt" points="244.1,264.9 272.7,248.4 297.0,262.4 268.4,278.9"/>
<polygon class="pf" points="244.1,264.9 268.4,278.9 268.4,282.9 244.1,268.9"/>
<polygon class="pr" points="268.4,278.9 297.0,262.4 297.0,266.4 268.4,282.9"/>
<polygon class="t" points="244.0,242.0 272.3,225.7 297.4,240.1 269.1,256.5"/>
<polygon class="f" points="244.0,242.0 269.1,256.5 269.1,279.0 244.0,264.5"/>
<polygon class="r" points="269.1,256.5 297.4,240.1 297.4,262.6 269.1,279.0"/>
<polygon class="pt" points="270.1,279.9 298.7,263.4 322.9,277.4 294.4,293.9"/>
<polygon class="pf" points="270.1,279.9 294.4,293.9 294.4,297.9 270.1,283.9"/>
<polygon class="pr" points="294.4,293.9 322.9,277.4 322.9,281.4 294.4,297.9"/>
<polygon class="t" points="269.9,257.0 298.2,240.6 323.4,255.1 295.0,271.5"/>
<polygon class="f" points="269.9,257.0 295.0,271.5 295.0,294.0 269.9,279.5"/>
<polygon class="r" points="295.0,271.5 323.4,255.1 323.4,277.6 295.0,294.0"/>
<polygon class="pt" points="244.1,234.9 272.7,218.4 297.0,232.4 268.4,248.9"/>
<polygon class="pf" points="244.1,234.9 268.4,248.9 268.4,252.9 244.1,238.9"/>
<polygon class="pr" points="268.4,248.9 297.0,232.4 297.0,236.4 268.4,252.9"/>
<polygon class="t" points="244.0,212.0 272.3,195.7 297.4,210.1 269.1,226.5"/>
<polygon class="f" points="244.0,212.0 269.1,226.5 269.1,249.0 244.0,234.5"/>
<polygon class="r" points="269.1,226.5 297.4,210.1 297.4,232.6 269.1,249.0"/>
<polygon class="pt" points="270.1,249.9 298.7,233.4 322.9,247.4 294.4,263.9"/>
<polygon class="pf" points="270.1,249.9 294.4,263.9 294.4,267.9 270.1,253.9"/>
<polygon class="pr" points="294.4,263.9 322.9,247.4 322.9,251.4 294.4,267.9"/>
<polygon class="t" points="269.9,227.0 298.2,210.6 323.4,225.1 295.0,241.5"/>
<polygon class="f" points="269.9,227.0 295.0,241.5 295.0,264.0 269.9,249.5"/>
<polygon class="r" points="295.0,241.5 323.4,225.1 323.4,247.6 295.0,264.0"/>
<polygon points="244.3,239.0 299.7,271.0 299.7,272.2 244.3,240.2" fill="#ee5a48"/>
<polygon points="243.3,203.1 245.3,201.9 300.8,233.9 298.7,235.1" fill="#f2524a"/>
<polygon points="243.3,203.1 298.7,235.1 298.7,240.1 243.3,208.1" fill="#ea2a1f"/>
<polygon points="298.7,235.1 300.8,233.9 300.8,238.9 298.7,240.1" fill="#c81e14"/>
<rect x="240.7" y="231.3" width="7.2" height="5.4" fill="#ea2a1f"/>
<rect x="240.7" y="201.3" width="7.2" height="5.4" fill="#ea2a1f"/>
<line x1="244.3" y1="265.5" x2="244.3" y2="258.5" stroke="#b9bdb6" stroke-width="3.6"/>
<line x1="244.3" y1="259.5" x2="244.3" y2="185.5" stroke="#2038c8" stroke-width="2.7"/>
<line x1="321.4" y1="285.0" x2="321.4" y2="278.0" stroke="#b9bdb6" stroke-width="3.6"/>
<line x1="321.4" y1="279.0" x2="321.4" y2="205.0" stroke="#2038c8" stroke-width="2.7"/>
<line x1="299.7" y1="225.5" x2="321.4" y2="213.0" stroke="#2038c8" stroke-width="2.1"/>
<line x1="299.7" y1="256.5" x2="321.4" y2="215.0" stroke="#2038c8" stroke-width="1.8"/>
<polygon points="320.3,222.6 322.4,221.4 377.8,253.4 375.8,254.6" fill="#f2524a"/>
<polygon points="320.3,222.6 375.8,254.6 375.8,259.6 320.3,227.6" fill="#ea2a1f"/>
<polygon points="375.8,254.6 377.8,253.4 377.8,258.4 375.8,259.6" fill="#c81e14"/>
<polygon class="pt" points="299.5,296.9 328.1,280.4 352.4,294.4 323.8,310.9"/>
<polygon class="pf" points="299.5,296.9 323.8,310.9 323.8,314.9 299.5,300.9"/>
<polygon class="pr" points="323.8,310.9 352.4,294.4 352.4,298.4 323.8,314.9"/>
<polygon class="t" points="299.4,274.0 327.7,257.6 352.8,272.1 324.5,288.5"/>
<polygon class="f" points="299.4,274.0 324.5,288.5 324.5,311.0 299.4,296.5"/>
<polygon class="r" points="324.5,288.5 352.8,272.1 352.8,294.6 324.5,311.0"/>
<polygon class="pt" points="325.5,311.9 354.1,295.4 378.4,309.4 349.8,325.9"/>
<polygon class="pf" points="325.5,311.9 349.8,325.9 349.8,329.9 325.5,315.9"/>
<polygon class="pr" points="349.8,325.9 378.4,309.4 378.4,313.4 349.8,329.9"/>
<polygon class="t" points="325.4,289.0 353.7,272.6 378.8,287.1 350.5,303.5"/>
<polygon class="f" points="325.4,289.0 350.5,303.5 350.5,326.0 325.4,311.5"/>
<polygon class="r" points="350.5,303.5 378.8,287.1 378.8,309.6 350.5,326.0"/>
<polygon class="pt" points="299.5,266.9 328.1,250.4 352.4,264.4 323.8,280.9"/>
<polygon class="pf" points="299.5,266.9 323.8,280.9 323.8,284.9 299.5,270.9"/>
<polygon class="pr" points="323.8,280.9 352.4,264.4 352.4,268.4 323.8,284.9"/>
<polygon class="t" points="299.4,244.0 327.7,227.6 352.8,242.1 324.5,258.5"/>
<polygon class="f" points="299.4,244.0 324.5,258.5 324.5,281.0 299.4,266.5"/>
<polygon class="r" points="324.5,258.5 352.8,242.1 352.8,264.6 324.5,281.0"/>
<polygon class="pt" points="325.5,281.9 354.1,265.4 378.4,279.4 349.8,295.9"/>
<polygon class="pf" points="325.5,281.9 349.8,295.9 349.8,299.9 325.5,285.9"/>
<polygon class="pr" points="349.8,295.9 378.4,279.4 378.4,283.4 349.8,299.9"/>
<polygon class="t" points="325.4,259.0 353.7,242.6 378.8,257.1 350.5,273.5"/>
<polygon class="f" points="325.4,259.0 350.5,273.5 350.5,296.0 325.4,281.5"/>
<polygon class="r" points="350.5,273.5 378.8,257.1 378.8,279.6 350.5,296.0"/>
<polygon points="299.7,271.0 355.1,303.0 355.1,304.2 299.7,272.2" fill="#ee5a48"/>
<polygon points="298.7,235.1 300.8,233.9 356.2,265.9 354.1,267.1" fill="#f2524a"/>
<polygon points="298.7,235.1 354.1,267.1 354.1,272.1 298.7,240.1" fill="#ea2a1f"/>
<polygon points="354.1,267.1 356.2,265.9 356.2,270.9 354.1,272.1" fill="#c81e14"/>
<rect x="296.1" y="263.3" width="7.2" height="5.4" fill="#ea2a1f"/>
<rect x="296.1" y="233.3" width="7.2" height="5.4" fill="#ea2a1f"/>
<line x1="299.7" y1="297.5" x2="299.7" y2="290.5" stroke="#b9bdb6" stroke-width="3.6"/>
<line x1="299.7" y1="291.5" x2="299.7" y2="217.5" stroke="#2038c8" stroke-width="2.7"/>
<line x1="376.8" y1="317.0" x2="376.8" y2="310.0" stroke="#b9bdb6" stroke-width="3.6"/>
<line x1="376.8" y1="311.0" x2="376.8" y2="237.0" stroke="#2038c8" stroke-width="2.7"/>
<line x1="355.1" y1="257.5" x2="376.8" y2="245.0" stroke="#2038c8" stroke-width="2.1"/>
<line x1="355.1" y1="288.5" x2="376.8" y2="247.0" stroke="#2038c8" stroke-width="1.8"/>
<polygon points="375.8,254.6 377.8,253.4 406.4,269.9 404.3,271.1" fill="#f2524a"/>
<polygon points="375.8,254.6 404.3,271.1 404.3,276.1 375.8,259.6" fill="#ea2a1f"/>
<polygon points="404.3,271.1 406.4,269.9 406.4,274.9 404.3,276.1" fill="#c81e14"/>
<polygon class="pt" points="355.0,328.9 383.6,312.4 407.8,326.4 379.2,342.9"/>
<polygon class="pf" points="355.0,328.9 379.2,342.9 379.2,346.9 355.0,332.9"/>
<polygon class="pr" points="379.2,342.9 407.8,326.4 407.8,330.4 379.2,346.9"/>
<polygon class="t" points="354.8,306.0 383.1,289.6 408.2,304.1 379.9,320.5"/>
<polygon class="f" points="354.8,306.0 379.9,320.5 379.9,343.0 354.8,328.5"/>
<polygon class="r" points="379.9,320.5 408.2,304.1 408.2,326.6 379.9,343.0"/>
<polygon class="pt" points="381.0,343.9 409.5,327.4 433.8,341.4 405.2,357.9"/>
<polygon class="pf" points="381.0,343.9 405.2,357.9 405.2,361.9 381.0,347.9"/>
<polygon class="pr" points="405.2,357.9 433.8,341.4 433.8,345.4 405.2,361.9"/>
<polygon class="t" points="380.8,321.0 409.1,304.6 434.2,319.1 405.9,335.5"/>
<polygon class="f" points="380.8,321.0 405.9,335.5 405.9,358.0 380.8,343.5"/>
<polygon class="r" points="405.9,335.5 434.2,319.1 434.2,341.6 405.9,358.0"/>
<polygon class="pt" points="355.0,298.9 383.6,282.4 407.8,296.4 379.2,312.9"/>
<polygon class="pf" points="355.0,298.9 379.2,312.9 379.2,316.9 355.0,302.9"/>
<polygon class="pr" points="379.2,312.9 407.8,296.4 407.8,300.4 379.2,316.9"/>
<polygon class="t" points="354.8,276.0 383.1,259.6 408.2,274.1 379.9,290.5"/>
<polygon class="f" points="354.8,276.0 379.9,290.5 379.9,313.0 354.8,298.5"/>
<polygon class="r" points="379.9,290.5 408.2,274.1 408.2,296.6 379.9,313.0"/>
<polygon class="pt" points="381.0,313.9 409.5,297.4 433.8,311.4 405.2,327.9"/>
<polygon class="pf" points="381.0,313.9 405.2,327.9 405.2,331.9 381.0,317.9"/>
<polygon class="pr" points="405.2,327.9 433.8,311.4 433.8,315.4 405.2,331.9"/>
<polygon class="t" points="380.8,291.0 409.1,274.6 434.2,289.1 405.9,305.5"/>
<polygon class="f" points="380.8,291.0 405.9,305.5 405.9,328.0 380.8,313.5"/>
<polygon class="r" points="405.9,305.5 434.2,289.1 434.2,311.6 405.9,328.0"/>
<polygon points="355.1,303.0 410.6,335.0 410.6,336.2 355.1,304.2" fill="#ee5a48"/>
<polygon class="pt" points="381.0,283.9 409.5,267.4 433.8,281.4 405.2,297.9"/>
<polygon class="pf" points="381.0,283.9 405.2,297.9 405.2,301.9 381.0,287.9"/>
<polygon class="pr" points="405.2,297.9 433.8,281.4 433.8,285.4 405.2,301.9"/>
<polygon class="t" points="380.8,261.0 409.1,244.6 434.2,259.1 405.9,275.5"/>
<polygon class="f" points="380.8,261.0 405.9,275.5 405.9,298.0 380.8,283.5"/>
<polygon class="r" points="405.9,275.5 434.2,259.1 434.2,281.6 405.9,298.0"/>
<polygon points="355.1,273.0 410.6,305.0 410.6,306.2 355.1,274.2" fill="#ee5a48"/>
<polygon points="354.1,267.1 356.2,265.9 384.8,282.4 382.7,283.6" fill="#f2524a"/>
<polygon points="354.1,267.1 382.7,283.6 382.7,288.6 354.1,272.1" fill="#ea2a1f"/>
<polygon points="382.7,283.6 384.8,282.4 384.8,287.4 382.7,288.6" fill="#c81e14"/>
<rect x="351.5" y="295.3" width="7.2" height="5.4" fill="#ea2a1f"/>
<rect x="351.5" y="265.3" width="7.2" height="5.4" fill="#ea2a1f"/>
<line x1="355.1" y1="329.5" x2="355.1" y2="322.5" stroke="#b9bdb6" stroke-width="3.6"/>
<line x1="355.1" y1="323.5" x2="355.1" y2="249.5" stroke="#2038c8" stroke-width="2.7"/>
<rect x="407.0" y="327.3" width="4.0" height="5.4" fill="#ea2a1f"/>
<polygon points="410.6,328.0 415.8,327.5 410.6,334.0" fill="#ea2a1f"/>
<polygon points="432.2,315.5 427.0,321.0 432.2,321.5" fill="#f0602a"/>
<rect x="407.0" y="297.3" width="4.0" height="5.4" fill="#ea2a1f"/>
<polygon points="410.6,298.0 415.8,297.5 410.6,304.0" fill="#ea2a1f"/>
<polygon points="432.2,285.5 427.0,291.0 432.2,291.5" fill="#f0602a"/>
<line x1="432.2" y1="349.0" x2="432.2" y2="342.0" stroke="#b9bdb6" stroke-width="3.6"/>
<line x1="432.2" y1="343.0" x2="432.2" y2="269.0" stroke="#2038c8" stroke-width="2.7"/>
<line x1="410.6" y1="352.5" x2="432.2" y2="340.0" stroke="#2038c8" stroke-width="2.1"/>
<line x1="410.6" y1="321.5" x2="432.2" y2="309.0" stroke="#2038c8" stroke-width="2.1"/>
<line x1="410.6" y1="289.5" x2="432.2" y2="277.0" stroke="#2038c8" stroke-width="2.1"/>
<line x1="410.6" y1="351.5" x2="432.2" y2="311.0" stroke="#2038c8" stroke-width="1.8"/>
<line x1="410.6" y1="320.5" x2="432.2" y2="279.0" stroke="#2038c8" stroke-width="1.8"/>
<line x1="410.6" y1="361.5" x2="410.6" y2="354.5" stroke="#b9bdb6" stroke-width="3.6"/>
<line x1="410.6" y1="355.5" x2="410.6" y2="281.5" stroke="#2038c8" stroke-width="2.7"/>
<g id="forklift">
<!-- mast -->
<polygon points="375,261.3 399.3,274.3 399.3,294 375,281" fill="#33322f"/>
<polygon points="378.5,266.5 396,276 396,280 378.5,270.5" fill="#6f6a5c"/>
<polygon points="378.5,274 396,283.5 396,287 378.5,277.5" fill="#6f6a5c"/>
<rect x="376" y="279" width="4.6" height="73" fill="#2e2d2b"/>
<rect x="390.4" y="288" width="5.2" height="68" fill="#2e2d2b"/>
<rect x="381" y="284" width="2" height="62" fill="#55524c"/>
<polygon points="375,343 396,352.5 396,358.5 375,351.5" fill="#2e2d2b"/>
<!-- chassis orange -->
<polygon points="343.9,374 373.5,369 388,356.5 395.6,353.5 401.8,356.4 401.8,363.8 357,390.5 350,389.3 343.9,384.8" fill="#ee4a1d"/>
<polygon points="343.9,374 373.5,369 388,356.5 395.6,353.5 401.8,356.4 357,382.5 350,381.5 343.9,377" fill="#f7693c"/>
<!-- body -->
<polygon points="343.9,335.4 373,350.7 373,372 343.9,376.5" fill="#c2c5c1"/>
<polygon points="343.9,335.4 353,330 382,345 373,350.7" fill="#d9dbd8"/>
<polygon points="373,350.7 382,345 382,362 373,372" fill="#a9aca8"/>
<!-- guard -->
<line x1="340" y1="313" x2="340" y2="338" stroke="#b8bab6" stroke-width="1.6"/>
<line x1="357.5" y1="318" x2="357.5" y2="343" stroke="#d8d8d4" stroke-width="1.6"/>
<path d="M354.4,327 Q356,321.5 361,321.5 L366,322" fill="none" stroke="#e2e2de" stroke-width="1.6"/>
<line x1="365.7" y1="321" x2="365.7" y2="346" stroke="#4a4a48" stroke-width="1.4"/>
<polygon points="334.6,310 346,306.4 362.2,316.3 350.7,319.8" fill="#57544f"/>
</g>

<line x1="120.5" y1="273.0" x2="120.5" y2="266.0" stroke="#b9bdb6" stroke-width="3.6"/>
<line x1="120.5" y1="267.0" x2="120.5" y2="193.0" stroke="#2038c8" stroke-width="2.7"/>
<line x1="98.8" y1="276.5" x2="120.5" y2="264.0" stroke="#2038c8" stroke-width="2.1"/>
<line x1="98.8" y1="245.5" x2="120.5" y2="233.0" stroke="#2038c8" stroke-width="2.1"/>
<line x1="98.8" y1="213.5" x2="120.5" y2="201.0" stroke="#2038c8" stroke-width="2.1"/>
<line x1="120.5" y1="263.0" x2="98.8" y2="247.5" stroke="#2038c8" stroke-width="1.8"/>
<line x1="120.5" y1="232.0" x2="98.8" y2="215.5" stroke="#2038c8" stroke-width="1.8"/>
<polygon points="119.4,210.6 121.5,209.4 176.9,241.4 174.8,242.6" fill="#f2524a"/>
<polygon points="119.4,210.6 174.8,242.6 174.8,247.6 119.4,215.6" fill="#ea2a1f"/>
<polygon points="174.8,242.6 176.9,241.4 176.9,246.4 174.8,247.6" fill="#c81e14"/>
<polygon class="pt" points="97.8,285.4 125.5,269.4 149.7,283.4 122.0,299.4"/>
<polygon class="pf" points="97.8,285.4 122.0,299.4 122.0,303.4 97.8,289.4"/>
<polygon class="pr" points="122.0,299.4 149.7,283.4 149.7,287.4 122.0,303.4"/>
<polygon class="t" points="97.6,262.5 125.0,246.6 150.2,261.1 122.7,277.0"/>
<polygon class="f" points="97.6,262.5 122.7,277.0 122.7,299.5 97.6,285.0"/>
<polygon class="r" points="122.7,277.0 150.2,261.1 150.2,283.6 122.7,299.5"/>
<polygon class="pt" points="123.8,300.4 151.5,284.4 175.7,298.4 148.0,314.4"/>
<polygon class="pf" points="123.8,300.4 148.0,314.4 148.0,318.4 123.8,304.4"/>
<polygon class="pr" points="148.0,314.4 175.7,298.4 175.7,302.4 148.0,318.4"/>
<polygon class="t" points="123.6,277.5 151.0,261.6 176.1,276.1 148.7,292.0"/>
<polygon class="f" points="123.6,277.5 148.7,292.0 148.7,314.5 123.6,300.0"/>
<polygon class="r" points="148.7,292.0 176.1,276.1 176.1,298.6 148.7,314.5"/>
<polygon class="pt" points="97.8,255.4 125.5,239.4 149.7,253.4 122.0,269.4"/>
<polygon class="pf" points="97.8,255.4 122.0,269.4 122.0,273.4 97.8,259.4"/>
<polygon class="pr" points="122.0,269.4 149.7,253.4 149.7,257.4 122.0,273.4"/>
<polygon class="t" points="97.6,232.5 125.0,216.6 150.2,231.1 122.7,247.0"/>
<polygon class="f" points="97.6,232.5 122.7,247.0 122.7,269.5 97.6,255.0"/>
<polygon class="r" points="122.7,247.0 150.2,231.1 150.2,253.6 122.7,269.5"/>
<polygon class="pt" points="123.8,270.4 151.5,254.4 175.7,268.4 148.0,284.4"/>
<polygon class="pf" points="123.8,270.4 148.0,284.4 148.0,288.4 123.8,274.4"/>
<polygon class="pr" points="148.0,284.4 175.7,268.4 175.7,272.4 148.0,288.4"/>
<polygon class="t" points="123.6,247.5 151.0,231.6 176.1,246.1 148.7,262.0"/>
<polygon class="f" points="123.6,247.5 148.7,262.0 148.7,284.5 123.6,270.0"/>
<polygon class="r" points="148.7,262.0 176.1,246.1 176.1,268.6 148.7,284.5"/>
<polygon points="98.8,260.0 154.2,292.0 154.2,293.2 98.8,261.2" fill="#ee5a48"/>
<polygon points="97.8,223.1 99.8,221.9 155.3,253.9 153.2,255.1" fill="#f2524a"/>
<polygon points="97.8,223.1 153.2,255.1 153.2,260.1 97.8,228.1" fill="#ea2a1f"/>
<polygon points="153.2,255.1 155.3,253.9 155.3,258.9 153.2,260.1" fill="#c81e14"/>
<rect x="98.3" y="251.3" width="4.0" height="5.4" fill="#ea2a1f"/>
<rect x="98.3" y="221.3" width="4.0" height="5.4" fill="#ea2a1f"/>
<line x1="98.8" y1="285.5" x2="98.8" y2="278.5" stroke="#b9bdb6" stroke-width="3.6"/>
<line x1="98.8" y1="279.5" x2="98.8" y2="205.5" stroke="#2038c8" stroke-width="2.7"/>
<line x1="175.9" y1="305.0" x2="175.9" y2="298.0" stroke="#b9bdb6" stroke-width="3.6"/>
<line x1="175.9" y1="299.0" x2="175.9" y2="225.0" stroke="#2038c8" stroke-width="2.7"/>
<line x1="154.2" y1="245.5" x2="175.9" y2="233.0" stroke="#2038c8" stroke-width="2.1"/>
<line x1="175.9" y1="264.0" x2="154.2" y2="247.5" stroke="#2038c8" stroke-width="1.8"/>
<polygon points="174.8,242.6 176.9,241.4 232.3,273.4 230.3,274.6" fill="#f2524a"/>
<polygon points="174.8,242.6 230.3,274.6 230.3,279.6 174.8,247.6" fill="#ea2a1f"/>
<polygon points="230.3,274.6 232.3,273.4 232.3,278.4 230.3,279.6" fill="#c81e14"/>
<polygon class="pt" points="153.2,317.4 180.9,301.4 205.2,315.4 177.4,331.4"/>
<polygon class="pf" points="153.2,317.4 177.4,331.4 177.4,335.4 153.2,321.4"/>
<polygon class="pr" points="177.4,331.4 205.2,315.4 205.2,319.4 177.4,335.4"/>
<polygon class="t" points="153.0,294.5 180.5,278.6 205.6,293.1 178.1,309.0"/>
<polygon class="f" points="153.0,294.5 178.1,309.0 178.1,331.5 153.0,317.0"/>
<polygon class="r" points="178.1,309.0 205.6,293.1 205.6,315.6 178.1,331.5"/>
<polygon class="pt" points="179.2,332.4 206.9,316.4 231.1,330.4 203.4,346.4"/>
<polygon class="pf" points="179.2,332.4 203.4,346.4 203.4,350.4 179.2,336.4"/>
<polygon class="pr" points="203.4,346.4 231.1,330.4 231.1,334.4 203.4,350.4"/>
<polygon class="t" points="179.0,309.5 206.5,293.6 231.6,308.1 204.1,324.0"/>
<polygon class="f" points="179.0,309.5 204.1,324.0 204.1,346.5 179.0,332.0"/>
<polygon class="r" points="204.1,324.0 231.6,308.1 231.6,330.6 204.1,346.5"/>
<polygon class="pt" points="153.2,287.4 180.9,271.4 205.2,285.4 177.4,301.4"/>
<polygon class="pf" points="153.2,287.4 177.4,301.4 177.4,305.4 153.2,291.4"/>
<polygon class="pr" points="177.4,301.4 205.2,285.4 205.2,289.4 177.4,305.4"/>
<polygon class="t" points="153.0,264.5 180.5,248.6 205.6,263.1 178.1,279.0"/>
<polygon class="f" points="153.0,264.5 178.1,279.0 178.1,301.5 153.0,287.0"/>
<polygon class="r" points="178.1,279.0 205.6,263.1 205.6,285.6 178.1,301.5"/>
<polygon class="pt" points="179.2,302.4 206.9,286.4 231.1,300.4 203.4,316.4"/>
<polygon class="pf" points="179.2,302.4 203.4,316.4 203.4,320.4 179.2,306.4"/>
<polygon class="pr" points="203.4,316.4 231.1,300.4 231.1,304.4 203.4,320.4"/>
<polygon class="t" points="179.0,279.5 206.5,263.6 231.6,278.1 204.1,294.0"/>
<polygon class="f" points="179.0,279.5 204.1,294.0 204.1,316.5 179.0,302.0"/>
<polygon class="r" points="204.1,294.0 231.6,278.1 231.6,300.6 204.1,316.5"/>
<polygon points="154.2,292.0 209.7,324.0 209.7,325.2 154.2,293.2" fill="#ee5a48"/>
<polygon points="153.2,255.1 155.3,253.9 210.7,285.9 208.6,287.1" fill="#f2524a"/>
<polygon points="153.2,255.1 208.6,287.1 208.6,292.1 153.2,260.1" fill="#ea2a1f"/>
<polygon points="208.6,287.1 210.7,285.9 210.7,290.9 208.6,292.1" fill="#c81e14"/>
<rect x="150.6" y="283.3" width="7.2" height="5.4" fill="#ea2a1f"/>
<rect x="150.6" y="253.3" width="7.2" height="5.4" fill="#ea2a1f"/>
<line x1="154.2" y1="317.5" x2="154.2" y2="310.5" stroke="#b9bdb6" stroke-width="3.6"/>
<line x1="154.2" y1="311.5" x2="154.2" y2="237.5" stroke="#2038c8" stroke-width="2.7"/>
<line x1="231.3" y1="337.0" x2="231.3" y2="330.0" stroke="#b9bdb6" stroke-width="3.6"/>
<line x1="231.3" y1="331.0" x2="231.3" y2="257.0" stroke="#2038c8" stroke-width="2.7"/>
<line x1="209.7" y1="277.5" x2="231.3" y2="265.0" stroke="#2038c8" stroke-width="2.1"/>
<line x1="231.3" y1="296.0" x2="209.7" y2="279.5" stroke="#2038c8" stroke-width="1.8"/>
<polygon points="230.3,274.6 232.3,273.4 287.8,305.4 285.7,306.6" fill="#f2524a"/>
<polygon points="230.3,274.6 285.7,306.6 285.7,311.6 230.3,279.6" fill="#ea2a1f"/>
<polygon points="285.7,306.6 287.8,305.4 287.8,310.4 285.7,311.6" fill="#c81e14"/>
<polygon class="pt" points="208.6,349.4 236.3,333.4 260.6,347.4 232.9,363.4"/>
<polygon class="pf" points="208.6,349.4 232.9,363.4 232.9,367.4 208.6,353.4"/>
<polygon class="pr" points="232.9,363.4 260.6,347.4 260.6,351.4 232.9,367.4"/>
<polygon class="t" points="208.4,326.5 235.9,310.6 261.0,325.1 233.6,341.0"/>
<polygon class="f" points="208.4,326.5 233.6,341.0 233.6,363.5 208.4,349.0"/>
<polygon class="r" points="233.6,341.0 261.0,325.1 261.0,347.6 233.6,363.5"/>
<polygon class="pt" points="234.6,364.4 262.3,348.4 286.6,362.4 258.8,378.4"/>
<polygon class="pf" points="234.6,364.4 258.8,378.4 258.8,382.4 234.6,368.4"/>
<polygon class="pr" points="258.8,378.4 286.6,362.4 286.6,366.4 258.8,382.4"/>
<polygon class="t" points="234.4,341.5 261.9,325.6 287.0,340.1 259.5,356.0"/>
<polygon class="f" points="234.4,341.5 259.5,356.0 259.5,378.5 234.4,364.0"/>
<polygon class="r" points="259.5,356.0 287.0,340.1 287.0,362.6 259.5,378.5"/>
<polygon class="pt" points="208.6,319.4 236.3,303.4 260.6,317.4 232.9,333.4"/>
<polygon class="pf" points="208.6,319.4 232.9,333.4 232.9,337.4 208.6,323.4"/>
<polygon class="pr" points="232.9,333.4 260.6,317.4 260.6,321.4 232.9,337.4"/>
<polygon class="t" points="208.4,296.5 235.9,280.6 261.0,295.1 233.6,311.0"/>
<polygon class="f" points="208.4,296.5 233.6,311.0 233.6,333.5 208.4,319.0"/>
<polygon class="r" points="233.6,311.0 261.0,295.1 261.0,317.6 233.6,333.5"/>
<polygon class="pt" points="234.6,334.4 262.3,318.4 286.6,332.4 258.8,348.4"/>
<polygon class="pf" points="234.6,334.4 258.8,348.4 258.8,352.4 234.6,338.4"/>
<polygon class="pr" points="258.8,348.4 286.6,332.4 286.6,336.4 258.8,352.4"/>
<polygon class="t" points="234.4,311.5 261.9,295.6 287.0,310.1 259.5,326.0"/>
<polygon class="f" points="234.4,311.5 259.5,326.0 259.5,348.5 234.4,334.0"/>
<polygon class="r" points="259.5,326.0 287.0,310.1 287.0,332.6 259.5,348.5"/>
<polygon points="209.7,324.0 265.1,356.0 265.1,357.2 209.7,325.2" fill="#ee5a48"/>
<polygon points="208.6,287.1 210.7,285.9 266.1,317.9 264.0,319.1" fill="#f2524a"/>
<polygon points="208.6,287.1 264.0,319.1 264.0,324.1 208.6,292.1" fill="#ea2a1f"/>
<polygon points="264.0,319.1 266.1,317.9 266.1,322.9 264.0,324.1" fill="#c81e14"/>
<rect x="206.1" y="315.3" width="7.2" height="5.4" fill="#ea2a1f"/>
<rect x="206.1" y="285.3" width="7.2" height="5.4" fill="#ea2a1f"/>
<line x1="209.7" y1="349.5" x2="209.7" y2="342.5" stroke="#b9bdb6" stroke-width="3.6"/>
<line x1="209.7" y1="343.5" x2="209.7" y2="269.5" stroke="#2038c8" stroke-width="2.7"/>
<line x1="286.7" y1="369.0" x2="286.7" y2="362.0" stroke="#b9bdb6" stroke-width="3.6"/>
<line x1="286.7" y1="363.0" x2="286.7" y2="289.0" stroke="#2038c8" stroke-width="2.7"/>
<line x1="265.1" y1="309.5" x2="286.7" y2="297.0" stroke="#2038c8" stroke-width="2.1"/>
<line x1="286.7" y1="328.0" x2="265.1" y2="311.5" stroke="#2038c8" stroke-width="1.8"/>
<polygon points="285.7,306.6 287.8,305.4 343.2,337.4 341.1,338.6" fill="#f2524a"/>
<polygon points="285.7,306.6 341.1,338.6 341.1,343.6 285.7,311.6" fill="#ea2a1f"/>
<polygon points="341.1,338.6 343.2,337.4 343.2,342.4 341.1,343.6" fill="#c81e14"/>
<polygon class="pt" points="264.0,381.4 291.8,365.4 316.0,379.4 288.3,395.4"/>
<polygon class="pf" points="264.0,381.4 288.3,395.4 288.3,399.4 264.0,385.4"/>
<polygon class="pr" points="288.3,395.4 316.0,379.4 316.0,383.4 288.3,399.4"/>
<polygon class="t" points="263.9,358.5 291.3,342.6 316.4,357.1 289.0,373.0"/>
<polygon class="f" points="263.9,358.5 289.0,373.0 289.0,395.5 263.9,381.0"/>
<polygon class="r" points="289.0,373.0 316.4,357.1 316.4,379.6 289.0,395.5"/>
<polygon class="pt" points="290.0,396.4 317.7,380.4 342.0,394.4 314.3,410.4"/>
<polygon class="pf" points="290.0,396.4 314.3,410.4 314.3,414.4 290.0,400.4"/>
<polygon class="pr" points="314.3,410.4 342.0,394.4 342.0,398.4 314.3,414.4"/>
<polygon class="t" points="289.8,373.5 317.3,357.6 342.4,372.1 315.0,388.0"/>
<polygon class="f" points="289.8,373.5 315.0,388.0 315.0,410.5 289.8,396.0"/>
<polygon class="r" points="315.0,388.0 342.4,372.1 342.4,394.6 315.0,410.5"/>
<polygon class="pt" points="264.0,351.4 291.8,335.4 316.0,349.4 288.3,365.4"/>
<polygon class="pf" points="264.0,351.4 288.3,365.4 288.3,369.4 264.0,355.4"/>
<polygon class="pr" points="288.3,365.4 316.0,349.4 316.0,353.4 288.3,369.4"/>
<polygon class="t" points="263.9,328.5 291.3,312.6 316.4,327.1 289.0,343.0"/>
<polygon class="f" points="263.9,328.5 289.0,343.0 289.0,365.5 263.9,351.0"/>
<polygon class="r" points="289.0,343.0 316.4,327.1 316.4,349.6 289.0,365.5"/>
<polygon class="pt" points="290.0,366.4 317.7,350.4 342.0,364.4 314.3,380.4"/>
<polygon class="pf" points="290.0,366.4 314.3,380.4 314.3,384.4 290.0,370.4"/>
<polygon class="pr" points="314.3,380.4 342.0,364.4 342.0,368.4 314.3,384.4"/>
<polygon class="t" points="289.8,343.5 317.3,327.6 342.4,342.1 315.0,358.0"/>
<polygon class="f" points="289.8,343.5 315.0,358.0 315.0,380.5 289.8,366.0"/>
<polygon class="r" points="315.0,358.0 342.4,342.1 342.4,364.6 315.0,380.5"/>
<polygon points="265.1,356.0 320.5,388.0 320.5,389.2 265.1,357.2" fill="#ee5a48"/>
<polygon points="264.0,319.1 266.1,317.9 321.5,349.9 319.5,351.1" fill="#f2524a"/>
<polygon points="264.0,319.1 319.5,351.1 319.5,356.1 264.0,324.1" fill="#ea2a1f"/>
<polygon points="319.5,351.1 321.5,349.9 321.5,354.9 319.5,356.1" fill="#c81e14"/>
<rect x="261.5" y="347.3" width="7.2" height="5.4" fill="#ea2a1f"/>
<rect x="261.5" y="317.3" width="7.2" height="5.4" fill="#ea2a1f"/>
<line x1="265.1" y1="381.5" x2="265.1" y2="374.5" stroke="#b9bdb6" stroke-width="3.6"/>
<line x1="265.1" y1="375.5" x2="265.1" y2="301.5" stroke="#2038c8" stroke-width="2.7"/>
<rect x="316.9" y="379.3" width="4.0" height="5.4" fill="#ea2a1f"/>
<polygon points="320.5,380.0 325.7,379.5 320.5,386.0" fill="#ea2a1f"/>
<polygon points="342.2,367.5 337.0,373.0 342.2,373.5" fill="#f0602a"/>
<rect x="316.9" y="349.3" width="4.0" height="5.4" fill="#ea2a1f"/>
<polygon points="320.5,350.0 325.7,349.5 320.5,356.0" fill="#ea2a1f"/>
<polygon points="342.2,337.5 337.0,343.0 342.2,343.5" fill="#f0602a"/>
<line x1="342.2" y1="401.0" x2="342.2" y2="394.0" stroke="#b9bdb6" stroke-width="3.6"/>
<line x1="342.2" y1="395.0" x2="342.2" y2="321.0" stroke="#2038c8" stroke-width="2.7"/>
<line x1="320.5" y1="404.5" x2="342.2" y2="392.0" stroke="#2038c8" stroke-width="2.1"/>
<line x1="320.5" y1="373.5" x2="342.2" y2="361.0" stroke="#2038c8" stroke-width="2.1"/>
<line x1="320.5" y1="341.5" x2="342.2" y2="329.0" stroke="#2038c8" stroke-width="2.1"/>
<line x1="342.2" y1="391.0" x2="320.5" y2="375.5" stroke="#2038c8" stroke-width="1.8"/>
<line x1="342.2" y1="360.0" x2="320.5" y2="343.5" stroke="#2038c8" stroke-width="1.8"/>
<line x1="320.5" y1="413.5" x2="320.5" y2="406.5" stroke="#b9bdb6" stroke-width="3.6"/>
<line x1="320.5" y1="407.5" x2="320.5" y2="333.5" stroke="#2038c8" stroke-width="2.7"/>
<line x1="90.2" y1="290.5" x2="90.2" y2="283.5" stroke="#b9bdb6" stroke-width="3.6"/>
<line x1="90.2" y1="284.5" x2="90.2" y2="210.5" stroke="#2038c8" stroke-width="2.7"/>
<line x1="68.5" y1="294.0" x2="90.2" y2="281.5" stroke="#2038c8" stroke-width="2.1"/>
<line x1="68.5" y1="263.0" x2="90.2" y2="250.5" stroke="#2038c8" stroke-width="2.1"/>
<line x1="68.5" y1="231.0" x2="90.2" y2="218.5" stroke="#2038c8" stroke-width="2.1"/>
<line x1="68.5" y1="293.0" x2="90.2" y2="252.5" stroke="#2038c8" stroke-width="1.8"/>
<line x1="68.5" y1="262.0" x2="90.2" y2="220.5" stroke="#2038c8" stroke-width="1.8"/>
<polygon class="pt" points="69.2,301.9 96.5,286.1 120.7,300.1 93.4,315.9"/>
<polygon class="pf" points="69.2,301.9 93.4,315.9 93.4,319.9 69.2,305.9"/>
<polygon class="pr" points="93.4,315.9 120.7,300.1 120.7,304.1 93.4,319.9"/>
<polygon class="t" points="69.0,279.0 96.0,263.4 121.2,277.9 94.1,293.5"/>
<polygon class="f" points="69.0,279.0 94.1,293.5 94.1,316.0 69.0,301.5"/>
<polygon class="r" points="94.1,293.5 121.2,277.9 121.2,300.4 94.1,316.0"/>
<polygon class="pt" points="95.2,316.9 122.5,301.1 146.7,315.1 119.4,330.9"/>
<polygon class="pf" points="95.2,316.9 119.4,330.9 119.4,334.9 95.2,320.9"/>
<polygon class="pr" points="119.4,330.9 146.7,315.1 146.7,319.1 119.4,334.9"/>
<polygon class="t" points="95.0,294.0 122.0,278.4 147.1,292.9 120.1,308.5"/>
<polygon class="f" points="95.0,294.0 120.1,308.5 120.1,331.0 95.0,316.5"/>
<polygon class="r" points="120.1,308.5 147.1,292.9 147.1,315.4 120.1,331.0"/>
<polygon class="pt" points="69.2,271.9 96.5,256.1 120.7,270.1 93.4,285.9"/>
<polygon class="pf" points="69.2,271.9 93.4,285.9 93.4,289.9 69.2,275.9"/>
<polygon class="pr" points="93.4,285.9 120.7,270.1 120.7,274.1 93.4,289.9"/>
<polygon class="t" points="69.0,249.0 96.0,233.4 121.2,247.9 94.1,263.5"/>
<polygon class="f" points="69.0,249.0 94.1,263.5 94.1,286.0 69.0,271.5"/>
<polygon class="r" points="94.1,263.5 121.2,247.9 121.2,270.4 94.1,286.0"/>
<polygon class="pt" points="95.2,286.9 122.5,271.1 146.7,285.1 119.4,300.9"/>
<polygon class="pf" points="95.2,286.9 119.4,300.9 119.4,304.9 95.2,290.9"/>
<polygon class="pr" points="119.4,300.9 146.7,285.1 146.7,289.1 119.4,304.9"/>
<polygon class="t" points="95.0,264.0 122.0,248.4 147.1,262.9 120.1,278.5"/>
<polygon class="f" points="95.0,264.0 120.1,278.5 120.1,301.0 95.0,286.5"/>
<polygon class="r" points="120.1,278.5 147.1,262.9 147.1,285.4 120.1,301.0"/>
<polygon points="68.5,275.5 123.9,307.5 123.9,308.7 68.5,276.7" fill="#ee5a48"/>
<polygon class="pt" points="69.2,241.9 96.5,226.1 120.7,240.1 93.4,255.9"/>
<polygon class="pf" points="69.2,241.9 93.4,255.9 93.4,259.9 69.2,245.9"/>
<polygon class="pr" points="93.4,255.9 120.7,240.1 120.7,244.1 93.4,259.9"/>
<polygon class="t" points="69.0,219.0 96.0,203.4 121.2,217.9 94.1,233.5"/>
<polygon class="f" points="69.0,219.0 94.1,233.5 94.1,256.0 69.0,241.5"/>
<polygon class="r" points="94.1,233.5 121.2,217.9 121.2,240.4 94.1,256.0"/>
<polygon class="pt" points="95.2,256.9 122.5,241.1 146.7,255.1 119.4,270.9"/>
<polygon class="pf" points="95.2,256.9 119.4,270.9 119.4,274.9 95.2,260.9"/>
<polygon class="pr" points="119.4,270.9 146.7,255.1 146.7,259.1 119.4,274.9"/>
<polygon class="t" points="95.0,234.0 122.0,218.4 147.1,232.9 120.1,248.5"/>
<polygon class="f" points="95.0,234.0 120.1,248.5 120.1,271.0 95.0,256.5"/>
<polygon class="r" points="120.1,248.5 147.1,232.9 147.1,255.4 120.1,271.0"/>
<polygon points="68.5,245.5 123.9,277.5 123.9,278.7 68.5,246.7" fill="#ee5a48"/>
<rect x="68.0" y="268.8" width="4.0" height="5.4" fill="#ea2a1f"/>
<rect x="68.0" y="238.8" width="4.0" height="5.4" fill="#ea2a1f"/>
<line x1="68.5" y1="303.0" x2="68.5" y2="296.0" stroke="#b9bdb6" stroke-width="3.6"/>
<line x1="68.5" y1="297.0" x2="68.5" y2="223.0" stroke="#2038c8" stroke-width="2.7"/>
<polygon class="pt" points="124.6,333.9 151.9,318.1 176.1,332.1 148.9,347.9"/>
<polygon class="pf" points="124.6,333.9 148.9,347.9 148.9,351.9 124.6,337.9"/>
<polygon class="pr" points="148.9,347.9 176.1,332.1 176.1,336.1 148.9,351.9"/>
<polygon class="t" points="124.4,311.0 151.5,295.4 176.6,309.9 149.6,325.5"/>
<polygon class="f" points="124.4,311.0 149.6,325.5 149.6,348.0 124.4,333.5"/>
<polygon class="r" points="149.6,325.5 176.6,309.9 176.6,332.4 149.6,348.0"/>
<polygon class="pt" points="150.6,348.9 177.9,333.1 202.1,347.1 174.8,362.9"/>
<polygon class="pf" points="150.6,348.9 174.8,362.9 174.8,366.9 150.6,352.9"/>
<polygon class="pr" points="174.8,362.9 202.1,347.1 202.1,351.1 174.8,366.9"/>
<polygon class="t" points="150.4,326.0 177.4,310.4 202.6,324.9 175.5,340.5"/>
<polygon class="f" points="150.4,326.0 175.5,340.5 175.5,363.0 150.4,348.5"/>
<polygon class="r" points="175.5,340.5 202.6,324.9 202.6,347.4 175.5,363.0"/>
<polygon class="pt" points="124.6,303.9 151.9,288.1 176.1,302.1 148.9,317.9"/>
<polygon class="pf" points="124.6,303.9 148.9,317.9 148.9,321.9 124.6,307.9"/>
<polygon class="pr" points="148.9,317.9 176.1,302.1 176.1,306.1 148.9,321.9"/>
<polygon class="t" points="124.4,281.0 151.5,265.4 176.6,279.9 149.6,295.5"/>
<polygon class="f" points="124.4,281.0 149.6,295.5 149.6,318.0 124.4,303.5"/>
<polygon class="r" points="149.6,295.5 176.6,279.9 176.6,302.4 149.6,318.0"/>
<polygon class="pt" points="150.6,318.9 177.9,303.1 202.1,317.1 174.8,332.9"/>
<polygon class="pf" points="150.6,318.9 174.8,332.9 174.8,336.9 150.6,322.9"/>
<polygon class="pr" points="174.8,332.9 202.1,317.1 202.1,321.1 174.8,336.9"/>
<polygon class="t" points="150.4,296.0 177.4,280.4 202.6,294.9 175.5,310.5"/>
<polygon class="f" points="150.4,296.0 175.5,310.5 175.5,333.0 150.4,318.5"/>
<polygon class="r" points="175.5,310.5 202.6,294.9 202.6,317.4 175.5,333.0"/>
<polygon points="123.9,307.5 179.3,339.5 179.3,340.7 123.9,308.7" fill="#ee5a48"/>
<polygon class="pt" points="124.6,273.9 151.9,258.1 176.1,272.1 148.9,287.9"/>
<polygon class="pf" points="124.6,273.9 148.9,287.9 148.9,291.9 124.6,277.9"/>
<polygon class="pr" points="148.9,287.9 176.1,272.1 176.1,276.1 148.9,291.9"/>
<polygon class="t" points="124.4,251.0 151.5,235.4 176.6,249.9 149.6,265.5"/>
<polygon class="f" points="124.4,251.0 149.6,265.5 149.6,288.0 124.4,273.5"/>
<polygon class="r" points="149.6,265.5 176.6,249.9 176.6,272.4 149.6,288.0"/>
<polygon class="pt" points="150.6,288.9 177.9,273.1 202.1,287.1 174.8,302.9"/>
<polygon class="pf" points="150.6,288.9 174.8,302.9 174.8,306.9 150.6,292.9"/>
<polygon class="pr" points="174.8,302.9 202.1,287.1 202.1,291.1 174.8,306.9"/>
<polygon class="t" points="150.4,266.0 177.4,250.4 202.6,264.9 175.5,280.5"/>
<polygon class="f" points="150.4,266.0 175.5,280.5 175.5,303.0 150.4,288.5"/>
<polygon class="r" points="175.5,280.5 202.6,264.9 202.6,287.4 175.5,303.0"/>
<polygon points="123.9,277.5 179.3,309.5 179.3,310.7 123.9,278.7" fill="#ee5a48"/>
<rect x="120.3" y="300.8" width="7.2" height="5.4" fill="#ea2a1f"/>
<rect x="120.3" y="270.8" width="7.2" height="5.4" fill="#ea2a1f"/>
<line x1="123.9" y1="335.0" x2="123.9" y2="328.0" stroke="#b9bdb6" stroke-width="3.6"/>
<line x1="123.9" y1="329.0" x2="123.9" y2="255.0" stroke="#2038c8" stroke-width="2.7"/>
<polygon class="pt" points="180.0,365.9 207.3,350.1 231.6,364.1 204.3,379.9"/>
<polygon class="pf" points="180.0,365.9 204.3,379.9 204.3,383.9 180.0,369.9"/>
<polygon class="pr" points="204.3,379.9 231.6,364.1 231.6,368.1 204.3,383.9"/>
<polygon class="t" points="179.9,343.0 206.9,327.4 232.0,341.9 205.0,357.5"/>
<polygon class="f" points="179.9,343.0 205.0,357.5 205.0,380.0 179.9,365.5"/>
<polygon class="r" points="205.0,357.5 232.0,341.9 232.0,364.4 205.0,380.0"/>
<polygon class="pt" points="206.0,380.9 233.3,365.1 257.5,379.1 230.3,394.9"/>
<polygon class="pf" points="206.0,380.9 230.3,394.9 230.3,398.9 206.0,384.9"/>
<polygon class="pr" points="230.3,394.9 257.5,379.1 257.5,383.1 230.3,398.9"/>
<polygon class="t" points="205.8,358.0 232.9,342.4 258.0,356.9 231.0,372.5"/>
<polygon class="f" points="205.8,358.0 231.0,372.5 231.0,395.0 205.8,380.5"/>
<polygon class="r" points="231.0,372.5 258.0,356.9 258.0,379.4 231.0,395.0"/>
<polygon class="pt" points="180.0,335.9 207.3,320.1 231.6,334.1 204.3,349.9"/>
<polygon class="pf" points="180.0,335.9 204.3,349.9 204.3,353.9 180.0,339.9"/>
<polygon class="pr" points="204.3,349.9 231.6,334.1 231.6,338.1 204.3,353.9"/>
<polygon class="t" points="179.9,313.0 206.9,297.4 232.0,311.9 205.0,327.5"/>
<polygon class="f" points="179.9,313.0 205.0,327.5 205.0,350.0 179.9,335.5"/>
<polygon class="r" points="205.0,327.5 232.0,311.9 232.0,334.4 205.0,350.0"/>
<polygon class="pt" points="206.0,350.9 233.3,335.1 257.5,349.1 230.3,364.9"/>
<polygon class="pf" points="206.0,350.9 230.3,364.9 230.3,368.9 206.0,354.9"/>
<polygon class="pr" points="230.3,364.9 257.5,349.1 257.5,353.1 230.3,368.9"/>
<polygon class="t" points="205.8,328.0 232.9,312.4 258.0,326.9 231.0,342.5"/>
<polygon class="f" points="205.8,328.0 231.0,342.5 231.0,365.0 205.8,350.5"/>
<polygon class="r" points="231.0,342.5 258.0,326.9 258.0,349.4 231.0,365.0"/>
<polygon points="179.3,339.5 234.8,371.5 234.8,372.7 179.3,340.7" fill="#ee5a48"/>
<polygon class="pt" points="180.0,305.9 207.3,290.1 231.6,304.1 204.3,319.9"/>
<polygon class="pf" points="180.0,305.9 204.3,319.9 204.3,323.9 180.0,309.9"/>
<polygon class="pr" points="204.3,319.9 231.6,304.1 231.6,308.1 204.3,323.9"/>
<polygon class="t" points="179.9,283.0 206.9,267.4 232.0,281.9 205.0,297.5"/>
<polygon class="f" points="179.9,283.0 205.0,297.5 205.0,320.0 179.9,305.5"/>
<polygon class="r" points="205.0,297.5 232.0,281.9 232.0,304.4 205.0,320.0"/>
<polygon class="pt" points="206.0,320.9 233.3,305.1 257.5,319.1 230.3,334.9"/>
<polygon class="pf" points="206.0,320.9 230.3,334.9 230.3,338.9 206.0,324.9"/>
<polygon class="pr" points="230.3,334.9 257.5,319.1 257.5,323.1 230.3,338.9"/>
<polygon class="t" points="205.8,298.0 232.9,282.4 258.0,296.9 231.0,312.5"/>
<polygon class="f" points="205.8,298.0 231.0,312.5 231.0,335.0 205.8,320.5"/>
<polygon class="r" points="231.0,312.5 258.0,296.9 258.0,319.4 231.0,335.0"/>
<polygon points="179.3,309.5 234.8,341.5 234.8,342.7 179.3,310.7" fill="#ee5a48"/>
<rect x="175.7" y="332.8" width="7.2" height="5.4" fill="#ea2a1f"/>
<rect x="175.7" y="302.8" width="7.2" height="5.4" fill="#ea2a1f"/>
<line x1="179.3" y1="367.0" x2="179.3" y2="360.0" stroke="#b9bdb6" stroke-width="3.6"/>
<line x1="179.3" y1="361.0" x2="179.3" y2="287.0" stroke="#2038c8" stroke-width="2.7"/>
<polygon class="pt" points="235.5,397.9 262.7,382.1 287.0,396.1 259.7,411.9"/>
<polygon class="pf" points="235.5,397.9 259.7,411.9 259.7,415.9 235.5,401.9"/>
<polygon class="pr" points="259.7,411.9 287.0,396.1 287.0,400.1 259.7,415.9"/>
<polygon class="t" points="235.3,375.0 262.3,359.4 287.4,373.9 260.4,389.5"/>
<polygon class="f" points="235.3,375.0 260.4,389.5 260.4,412.0 235.3,397.5"/>
<polygon class="r" points="260.4,389.5 287.4,373.9 287.4,396.4 260.4,412.0"/>
<polygon class="pt" points="261.4,412.9 288.7,397.1 313.0,411.1 285.7,426.9"/>
<polygon class="pf" points="261.4,412.9 285.7,426.9 285.7,430.9 261.4,416.9"/>
<polygon class="pr" points="285.7,426.9 313.0,411.1 313.0,415.1 285.7,430.9"/>
<polygon class="t" points="261.3,390.0 288.3,374.4 313.4,388.9 286.4,404.5"/>
<polygon class="f" points="261.3,390.0 286.4,404.5 286.4,427.0 261.3,412.5"/>
<polygon class="r" points="286.4,404.5 313.4,388.9 313.4,411.4 286.4,427.0"/>
<polygon class="pt" points="235.5,367.9 262.7,352.1 287.0,366.1 259.7,381.9"/>
<polygon class="pf" points="235.5,367.9 259.7,381.9 259.7,385.9 235.5,371.9"/>
<polygon class="pr" points="259.7,381.9 287.0,366.1 287.0,370.1 259.7,385.9"/>
<polygon class="t" points="235.3,345.0 262.3,329.4 287.4,343.9 260.4,359.5"/>
<polygon class="f" points="235.3,345.0 260.4,359.5 260.4,382.0 235.3,367.5"/>
<polygon class="r" points="260.4,359.5 287.4,343.9 287.4,366.4 260.4,382.0"/>
<polygon class="pt" points="261.4,382.9 288.7,367.1 313.0,381.1 285.7,396.9"/>
<polygon class="pf" points="261.4,382.9 285.7,396.9 285.7,400.9 261.4,386.9"/>
<polygon class="pr" points="285.7,396.9 313.0,381.1 313.0,385.1 285.7,400.9"/>
<polygon class="t" points="261.3,360.0 288.3,344.4 313.4,358.9 286.4,374.5"/>
<polygon class="f" points="261.3,360.0 286.4,374.5 286.4,397.0 261.3,382.5"/>
<polygon class="r" points="286.4,374.5 313.4,358.9 313.4,381.4 286.4,397.0"/>
<polygon points="234.8,371.5 290.2,403.5 290.2,404.7 234.8,372.7" fill="#ee5a48"/>
<polygon class="pt" points="235.5,337.9 262.7,322.1 287.0,336.1 259.7,351.9"/>
<polygon class="pf" points="235.5,337.9 259.7,351.9 259.7,355.9 235.5,341.9"/>
<polygon class="pr" points="259.7,351.9 287.0,336.1 287.0,340.1 259.7,355.9"/>
<polygon class="t" points="235.3,315.0 262.3,299.4 287.4,313.9 260.4,329.5"/>
<polygon class="f" points="235.3,315.0 260.4,329.5 260.4,352.0 235.3,337.5"/>
<polygon class="r" points="260.4,329.5 287.4,313.9 287.4,336.4 260.4,352.0"/>
<polygon class="pt" points="261.4,352.9 288.7,337.1 313.0,351.1 285.7,366.9"/>
<polygon class="pf" points="261.4,352.9 285.7,366.9 285.7,370.9 261.4,356.9"/>
<polygon class="pr" points="285.7,366.9 313.0,351.1 313.0,355.1 285.7,370.9"/>
<polygon class="t" points="261.3,330.0 288.3,314.4 313.4,328.9 286.4,344.5"/>
<polygon class="f" points="261.3,330.0 286.4,344.5 286.4,367.0 261.3,352.5"/>
<polygon class="r" points="286.4,344.5 313.4,328.9 313.4,351.4 286.4,367.0"/>
<polygon points="234.8,341.5 290.2,373.5 290.2,374.7 234.8,342.7" fill="#ee5a48"/>
<rect x="231.2" y="364.8" width="7.2" height="5.4" fill="#ea2a1f"/>
<rect x="231.2" y="334.8" width="7.2" height="5.4" fill="#ea2a1f"/>
<line x1="234.8" y1="399.0" x2="234.8" y2="392.0" stroke="#b9bdb6" stroke-width="3.6"/>
<line x1="234.8" y1="393.0" x2="234.8" y2="319.0" stroke="#2038c8" stroke-width="2.7"/>
<rect x="286.6" y="396.8" width="4.0" height="5.4" fill="#ea2a1f"/>
<polygon points="290.2,397.5 295.4,397.0 290.2,403.5" fill="#ea2a1f"/>
<polygon points="311.8,385.0 306.6,390.5 311.8,391.0" fill="#f0602a"/>
<rect x="286.6" y="366.8" width="4.0" height="5.4" fill="#ea2a1f"/>
<polygon points="290.2,367.5 295.4,367.0 290.2,373.5" fill="#ea2a1f"/>
<polygon points="311.8,355.0 306.6,360.5 311.8,361.0" fill="#f0602a"/>
<line x1="311.8" y1="418.5" x2="311.8" y2="411.5" stroke="#b9bdb6" stroke-width="3.6"/>
<line x1="311.8" y1="412.5" x2="311.8" y2="338.5" stroke="#2038c8" stroke-width="2.7"/>
<line x1="290.2" y1="422.0" x2="311.8" y2="409.5" stroke="#2038c8" stroke-width="2.1"/>
<line x1="290.2" y1="391.0" x2="311.8" y2="378.5" stroke="#2038c8" stroke-width="2.1"/>
<line x1="290.2" y1="359.0" x2="311.8" y2="346.5" stroke="#2038c8" stroke-width="2.1"/>
<line x1="290.2" y1="421.0" x2="311.8" y2="380.5" stroke="#2038c8" stroke-width="1.8"/>
<line x1="290.2" y1="390.0" x2="311.8" y2="348.5" stroke="#2038c8" stroke-width="1.8"/>
<line x1="290.2" y1="431.0" x2="290.2" y2="424.0" stroke="#b9bdb6" stroke-width="3.6"/>
<line x1="290.2" y1="425.0" x2="290.2" y2="351.0" stroke="#2038c8" stroke-width="2.7"/>
<defs>
<g id="wm" fill="#fff" stroke="none">
 <circle cx="0" cy="0" r="15" fill="none" stroke="#fff" stroke-width="3.2"/>
 <polygon points="-11,-7 0,-7 -4,7 -9,7 -6,-4 -11,-4"/>
 <polygon points="2,-7 8,-7 4,3.5 12,3.5 11,7 -2,7"/>
 <g transform="rotate(-20)">
 <text x="23" y="5" font-family="'Liberation Sans','Noto Sans CJK SC',sans-serif" font-weight="700" font-size="18" letter-spacing="0.5">力泽货架</text>
 <text x="24" y="15.5" font-family="'Liberation Sans',sans-serif" font-weight="700" font-size="6.6" letter-spacing="0.5">WWW.HPHUOJIA.COM</text>
 </g>
</g>
</defs>
<use href="#wm" x="97" y="260" opacity="0.3"/>
<use href="#wm" x="277" y="107.5" opacity="0.3"/>
<use href="#wm" x="538" y="172" opacity="0.3"/>
<use href="#wm" x="369" y="328" opacity="0.3"/>
<!-- logo -->
<g id="logo">
 <path d="M31.8,52.4 A20.35,20.35 0 0 1 67.9,70.8" fill="none" stroke="#1b50a5" stroke-width="4.6"/>
 <path d="M31.6,52.7 A20.35,20.35 0 0 0 65.2,75.7" fill="none" stroke="#e23a26" stroke-width="4.6"/>
 <polygon points="29.5,52.9 49,52.9 43.2,72.4 35.6,72.4 40.5,57.4 29.5,57.4" fill="#e23a26"/>
 <polygon points="53.2,52.9 62.4,52.9 57.8,67.7 70.5,67.7 70.5,72.4 47.5,72.4" fill="#1b50a5"/>
 <text x="76.8" y="71.2" font-family="'Liberation Sans','Noto Sans CJK SC',sans-serif" font-weight="700" font-size="22" letter-spacing="3.3" fill="#1b50a5" stroke="#1b50a5" stroke-width="0.5">力泽货架</text>
</g>

</svg>
</body></html>
